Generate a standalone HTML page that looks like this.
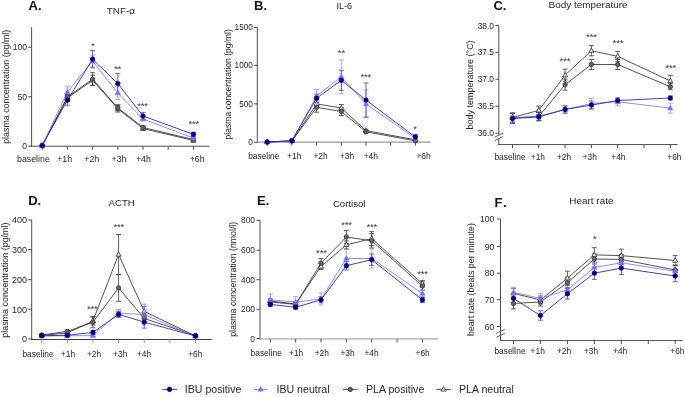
<!DOCTYPE html>
<html><head><meta charset="utf-8"><style>
html,body{margin:0;padding:0;background:#fff;}
svg{display:block;font-family:"Liberation Sans", sans-serif;will-change:transform;}
</style></head><body>
<svg width="685" height="397" viewBox="0 0 685 397">
<rect width="685" height="397" fill="#fff"/>
<g>
<line x1="31.60" y1="27.30" x2="31.60" y2="146.70" stroke="#4d4d4d" stroke-width="1.0" />
<line x1="31.10" y1="146.20" x2="209.60" y2="146.20" stroke="#4d4d4d" stroke-width="1.0" />
<line x1="28.10" y1="146.20" x2="31.60" y2="146.20" stroke="#4d4d4d" stroke-width="1.0" />
<text x="27.00" y="149.30" font-size="8.6" text-anchor="end" font-weight="normal" fill="#262626" >0</text>
<line x1="28.10" y1="96.80" x2="31.60" y2="96.80" stroke="#4d4d4d" stroke-width="1.0" />
<text x="27.00" y="99.90" font-size="8.6" text-anchor="end" font-weight="normal" fill="#262626" >50</text>
<line x1="28.10" y1="47.30" x2="31.60" y2="47.30" stroke="#4d4d4d" stroke-width="1.0" />
<text x="27.00" y="50.40" font-size="8.6" text-anchor="end" font-weight="normal" fill="#262626" >100</text>
<line x1="42.20" y1="146.20" x2="42.20" y2="149.70" stroke="#4d4d4d" stroke-width="1.0" />
<line x1="67.40" y1="146.20" x2="67.40" y2="149.70" stroke="#4d4d4d" stroke-width="1.0" />
<line x1="92.60" y1="146.20" x2="92.60" y2="149.70" stroke="#4d4d4d" stroke-width="1.0" />
<line x1="117.80" y1="146.20" x2="117.80" y2="149.70" stroke="#4d4d4d" stroke-width="1.0" />
<line x1="143.00" y1="146.20" x2="143.00" y2="149.70" stroke="#4d4d4d" stroke-width="1.0" />
<line x1="168.20" y1="146.20" x2="168.20" y2="149.70" stroke="#4d4d4d" stroke-width="1.0" />
<line x1="193.40" y1="146.20" x2="193.40" y2="149.70" stroke="#4d4d4d" stroke-width="1.0" />
<text x="33.40" y="162.20" font-size="8.8" text-anchor="middle" font-weight="normal" fill="#262626" >baseline</text>
<text x="64.70" y="162.20" font-size="8.8" text-anchor="middle" font-weight="normal" fill="#262626" >+1h</text>
<text x="91.80" y="162.20" font-size="8.8" text-anchor="middle" font-weight="normal" fill="#262626" >+2h</text>
<text x="119.00" y="162.20" font-size="8.8" text-anchor="middle" font-weight="normal" fill="#262626" >+3h</text>
<text x="143.40" y="162.20" font-size="8.8" text-anchor="middle" font-weight="normal" fill="#262626" >+4h</text>
<text x="197.20" y="162.20" font-size="8.8" text-anchor="middle" font-weight="normal" fill="#262626" >+6h</text>
<polyline points="42.20,145.50 67.40,98.00 92.60,80.30 117.80,108.60 143.00,128.50 193.40,140.50" fill="none" stroke="#333333" stroke-width="0.85"/>
<polyline points="42.20,145.50 67.40,97.00 92.60,79.20 117.80,107.80 143.00,127.50 193.40,139.50" fill="none" stroke="#333333" stroke-width="0.85"/>
<polyline points="42.20,145.50 67.40,92.00 92.60,61.00 117.80,93.00 143.00,119.00 193.40,138.00" fill="none" stroke="#7a7aff" stroke-width="0.85"/>
<polyline points="42.20,145.50 67.40,100.20 92.60,59.20 117.80,83.50 143.00,116.00 193.40,134.30" fill="none" stroke="#22228f" stroke-width="0.85"/>
<line x1="67.40" y1="95.00" x2="67.40" y2="101.00" stroke="#383838" stroke-width="0.8" />
<line x1="64.90" y1="95.00" x2="69.90" y2="95.00" stroke="#383838" stroke-width="0.8" />
<line x1="64.90" y1="101.00" x2="69.90" y2="101.00" stroke="#383838" stroke-width="0.8" />
<line x1="92.60" y1="75.30" x2="92.60" y2="85.30" stroke="#383838" stroke-width="0.8" />
<line x1="90.10" y1="75.30" x2="95.10" y2="75.30" stroke="#383838" stroke-width="0.8" />
<line x1="90.10" y1="85.30" x2="95.10" y2="85.30" stroke="#383838" stroke-width="0.8" />
<line x1="117.80" y1="105.10" x2="117.80" y2="112.10" stroke="#383838" stroke-width="0.8" />
<line x1="115.30" y1="105.10" x2="120.30" y2="105.10" stroke="#383838" stroke-width="0.8" />
<line x1="115.30" y1="112.10" x2="120.30" y2="112.10" stroke="#383838" stroke-width="0.8" />
<line x1="143.00" y1="126.50" x2="143.00" y2="130.50" stroke="#383838" stroke-width="0.8" />
<line x1="140.50" y1="126.50" x2="145.50" y2="126.50" stroke="#383838" stroke-width="0.8" />
<line x1="140.50" y1="130.50" x2="145.50" y2="130.50" stroke="#383838" stroke-width="0.8" />
<line x1="193.40" y1="139.00" x2="193.40" y2="142.00" stroke="#383838" stroke-width="0.8" />
<line x1="190.90" y1="139.00" x2="195.90" y2="139.00" stroke="#383838" stroke-width="0.8" />
<line x1="190.90" y1="142.00" x2="195.90" y2="142.00" stroke="#383838" stroke-width="0.8" />
<line x1="67.40" y1="94.00" x2="67.40" y2="100.00" stroke="#383838" stroke-width="0.8" />
<line x1="64.90" y1="94.00" x2="69.90" y2="94.00" stroke="#383838" stroke-width="0.8" />
<line x1="64.90" y1="100.00" x2="69.90" y2="100.00" stroke="#383838" stroke-width="0.8" />
<line x1="92.60" y1="72.70" x2="92.60" y2="85.70" stroke="#383838" stroke-width="0.8" />
<line x1="90.10" y1="72.70" x2="95.10" y2="72.70" stroke="#383838" stroke-width="0.8" />
<line x1="90.10" y1="85.70" x2="95.10" y2="85.70" stroke="#383838" stroke-width="0.8" />
<line x1="117.80" y1="104.80" x2="117.80" y2="110.80" stroke="#383838" stroke-width="0.8" />
<line x1="115.30" y1="104.80" x2="120.30" y2="104.80" stroke="#383838" stroke-width="0.8" />
<line x1="115.30" y1="110.80" x2="120.30" y2="110.80" stroke="#383838" stroke-width="0.8" />
<line x1="143.00" y1="126.00" x2="143.00" y2="129.00" stroke="#383838" stroke-width="0.8" />
<line x1="140.50" y1="126.00" x2="145.50" y2="126.00" stroke="#383838" stroke-width="0.8" />
<line x1="140.50" y1="129.00" x2="145.50" y2="129.00" stroke="#383838" stroke-width="0.8" />
<line x1="193.40" y1="138.00" x2="193.40" y2="141.00" stroke="#383838" stroke-width="0.8" />
<line x1="190.90" y1="138.00" x2="195.90" y2="138.00" stroke="#383838" stroke-width="0.8" />
<line x1="190.90" y1="141.00" x2="195.90" y2="141.00" stroke="#383838" stroke-width="0.8" />
<line x1="67.40" y1="86.20" x2="67.40" y2="97.80" stroke="#8c8cff" stroke-width="0.75" />
<line x1="64.90" y1="86.20" x2="69.90" y2="86.20" stroke="#8c8cff" stroke-width="0.75" />
<line x1="64.90" y1="97.80" x2="69.90" y2="97.80" stroke="#8c8cff" stroke-width="0.75" />
<line x1="92.60" y1="55.00" x2="92.60" y2="67.00" stroke="#8c8cff" stroke-width="0.75" />
<line x1="90.10" y1="55.00" x2="95.10" y2="55.00" stroke="#8c8cff" stroke-width="0.75" />
<line x1="90.10" y1="67.00" x2="95.10" y2="67.00" stroke="#8c8cff" stroke-width="0.75" />
<line x1="117.80" y1="86.60" x2="117.80" y2="99.40" stroke="#8c8cff" stroke-width="0.75" />
<line x1="115.30" y1="86.60" x2="120.30" y2="86.60" stroke="#8c8cff" stroke-width="0.75" />
<line x1="115.30" y1="99.40" x2="120.30" y2="99.40" stroke="#8c8cff" stroke-width="0.75" />
<line x1="143.00" y1="117.00" x2="143.00" y2="121.00" stroke="#8c8cff" stroke-width="0.75" />
<line x1="140.50" y1="117.00" x2="145.50" y2="117.00" stroke="#8c8cff" stroke-width="0.75" />
<line x1="140.50" y1="121.00" x2="145.50" y2="121.00" stroke="#8c8cff" stroke-width="0.75" />
<line x1="193.40" y1="136.50" x2="193.40" y2="139.50" stroke="#8c8cff" stroke-width="0.75" />
<line x1="190.90" y1="136.50" x2="195.90" y2="136.50" stroke="#8c8cff" stroke-width="0.75" />
<line x1="190.90" y1="139.50" x2="195.90" y2="139.50" stroke="#8c8cff" stroke-width="0.75" />
<line x1="67.40" y1="95.20" x2="67.40" y2="105.20" stroke="#3c3c9c" stroke-width="0.75" />
<line x1="64.90" y1="95.20" x2="69.90" y2="95.20" stroke="#3c3c9c" stroke-width="0.75" />
<line x1="64.90" y1="105.20" x2="69.90" y2="105.20" stroke="#3c3c9c" stroke-width="0.75" />
<line x1="92.60" y1="50.50" x2="92.60" y2="67.90" stroke="#3c3c9c" stroke-width="0.75" />
<line x1="90.10" y1="50.50" x2="95.10" y2="50.50" stroke="#3c3c9c" stroke-width="0.75" />
<line x1="90.10" y1="67.90" x2="95.10" y2="67.90" stroke="#3c3c9c" stroke-width="0.75" />
<line x1="117.80" y1="73.40" x2="117.80" y2="93.60" stroke="#3c3c9c" stroke-width="0.75" />
<line x1="115.30" y1="73.40" x2="120.30" y2="73.40" stroke="#3c3c9c" stroke-width="0.75" />
<line x1="115.30" y1="93.60" x2="120.30" y2="93.60" stroke="#3c3c9c" stroke-width="0.75" />
<line x1="143.00" y1="112.40" x2="143.00" y2="119.60" stroke="#3c3c9c" stroke-width="0.75" />
<line x1="140.50" y1="112.40" x2="145.50" y2="112.40" stroke="#3c3c9c" stroke-width="0.75" />
<line x1="140.50" y1="119.60" x2="145.50" y2="119.60" stroke="#3c3c9c" stroke-width="0.75" />
<line x1="193.40" y1="132.30" x2="193.40" y2="136.30" stroke="#3c3c9c" stroke-width="0.75" />
<line x1="190.90" y1="132.30" x2="195.90" y2="132.30" stroke="#3c3c9c" stroke-width="0.75" />
<line x1="190.90" y1="136.30" x2="195.90" y2="136.30" stroke="#3c3c9c" stroke-width="0.75" />
<polygon points="42.20,142.76 39.65,147.18 44.75,147.18" fill="#e8e8e8" stroke="#333333" stroke-width="0.8" stroke-linejoin="miter"/>
<polygon points="67.40,95.26 64.85,99.68 69.95,99.68" fill="#e8e8e8" stroke="#333333" stroke-width="0.8" stroke-linejoin="miter"/>
<polygon points="92.60,77.56 90.05,81.98 95.15,81.98" fill="#e8e8e8" stroke="#333333" stroke-width="0.8" stroke-linejoin="miter"/>
<polygon points="117.80,105.86 115.25,110.28 120.35,110.28" fill="#e8e8e8" stroke="#333333" stroke-width="0.8" stroke-linejoin="miter"/>
<polygon points="143.00,125.76 140.45,130.18 145.55,130.18" fill="#e8e8e8" stroke="#333333" stroke-width="0.8" stroke-linejoin="miter"/>
<polygon points="193.40,137.76 190.85,142.18 195.95,142.18" fill="#e8e8e8" stroke="#333333" stroke-width="0.8" stroke-linejoin="miter"/>
<circle cx="42.20" cy="145.50" r="2.2" fill="#666666" stroke="#333333" stroke-width="0.8"/>
<circle cx="67.40" cy="97.00" r="2.2" fill="#666666" stroke="#333333" stroke-width="0.8"/>
<circle cx="92.60" cy="79.20" r="2.2" fill="#666666" stroke="#333333" stroke-width="0.8"/>
<circle cx="117.80" cy="107.80" r="2.2" fill="#666666" stroke="#333333" stroke-width="0.8"/>
<circle cx="143.00" cy="127.50" r="2.2" fill="#666666" stroke="#333333" stroke-width="0.8"/>
<circle cx="193.40" cy="139.50" r="2.2" fill="#666666" stroke="#333333" stroke-width="0.8"/>
<polygon points="42.20,142.60 39.50,147.28 44.90,147.28" fill="#7373ff" stroke="#7373ff" stroke-width="0.5" stroke-linejoin="miter"/>
<polygon points="67.40,89.10 64.70,93.78 70.10,93.78" fill="#7373ff" stroke="#7373ff" stroke-width="0.5" stroke-linejoin="miter"/>
<polygon points="92.60,58.10 89.90,62.78 95.30,62.78" fill="#7373ff" stroke="#7373ff" stroke-width="0.5" stroke-linejoin="miter"/>
<polygon points="117.80,90.10 115.10,94.78 120.50,94.78" fill="#7373ff" stroke="#7373ff" stroke-width="0.5" stroke-linejoin="miter"/>
<polygon points="143.00,116.10 140.30,120.78 145.70,120.78" fill="#7373ff" stroke="#7373ff" stroke-width="0.5" stroke-linejoin="miter"/>
<polygon points="193.40,135.10 190.70,139.78 196.10,139.78" fill="#7373ff" stroke="#7373ff" stroke-width="0.5" stroke-linejoin="miter"/>
<circle cx="42.20" cy="145.50" r="2.35" fill="#000080" stroke="#000080" stroke-width="0.5"/>
<circle cx="67.40" cy="100.20" r="2.35" fill="#000080" stroke="#000080" stroke-width="0.5"/>
<circle cx="92.60" cy="59.20" r="2.35" fill="#000080" stroke="#000080" stroke-width="0.5"/>
<circle cx="117.80" cy="83.50" r="2.35" fill="#000080" stroke="#000080" stroke-width="0.5"/>
<circle cx="143.00" cy="116.00" r="2.35" fill="#000080" stroke="#000080" stroke-width="0.5"/>
<circle cx="193.40" cy="134.30" r="2.35" fill="#000080" stroke="#000080" stroke-width="0.5"/>
<text x="92.70" y="48.72" font-size="9.6" text-anchor="middle" font-weight="normal" fill="#333" letter-spacing="-0.2">*</text>
<text x="117.50" y="71.72" font-size="9.6" text-anchor="middle" font-weight="normal" fill="#333" letter-spacing="-0.2">**</text>
<text x="142.50" y="109.32" font-size="9.6" text-anchor="middle" font-weight="normal" fill="#333" letter-spacing="-0.2">***</text>
<text x="193.80" y="127.12" font-size="9.6" text-anchor="middle" font-weight="normal" fill="#333" letter-spacing="-0.2">***</text>
<text x="28.60" y="10.00" font-size="13" text-anchor="start" font-weight="bold" fill="#111" >A.</text>
<text x="106.80" y="14.00" font-size="9.9" text-anchor="start" font-weight="normal" fill="#262626" >TNF-α</text>
<text transform="translate(8.80,86.80) rotate(-90)" font-size="8.85" text-anchor="middle" fill="#262626">plasma concentration (pg/ml)</text>
<line x1="257.30" y1="27.40" x2="257.30" y2="142.70" stroke="#4d4d4d" stroke-width="1.0" />
<line x1="256.80" y1="142.20" x2="430.60" y2="142.20" stroke="#999" stroke-width="1.3" />
<line x1="253.80" y1="142.20" x2="257.30" y2="142.20" stroke="#4d4d4d" stroke-width="1.0" />
<text x="252.80" y="145.15" font-size="8.2" text-anchor="end" font-weight="normal" fill="#262626" >0</text>
<line x1="253.80" y1="103.80" x2="257.30" y2="103.80" stroke="#4d4d4d" stroke-width="1.0" />
<text x="252.80" y="106.75" font-size="8.2" text-anchor="end" font-weight="normal" fill="#262626" >500</text>
<line x1="253.80" y1="65.30" x2="257.30" y2="65.30" stroke="#4d4d4d" stroke-width="1.0" />
<text x="252.80" y="68.25" font-size="8.2" text-anchor="end" font-weight="normal" fill="#262626" >1000</text>
<line x1="253.80" y1="27.40" x2="257.30" y2="27.40" stroke="#4d4d4d" stroke-width="1.0" />
<text x="252.80" y="30.35" font-size="8.2" text-anchor="end" font-weight="normal" fill="#262626" >1500</text>
<line x1="267.20" y1="142.20" x2="267.20" y2="145.70" stroke="#4d4d4d" stroke-width="1.0" />
<line x1="291.90" y1="142.20" x2="291.90" y2="145.70" stroke="#4d4d4d" stroke-width="1.0" />
<line x1="316.60" y1="142.20" x2="316.60" y2="145.70" stroke="#4d4d4d" stroke-width="1.0" />
<line x1="341.30" y1="142.20" x2="341.30" y2="145.70" stroke="#4d4d4d" stroke-width="1.0" />
<line x1="366.00" y1="142.20" x2="366.00" y2="145.70" stroke="#4d4d4d" stroke-width="1.0" />
<line x1="390.70" y1="142.20" x2="390.70" y2="145.70" stroke="#4d4d4d" stroke-width="1.0" />
<line x1="415.40" y1="142.20" x2="415.40" y2="145.70" stroke="#4d4d4d" stroke-width="1.0" />
<text x="263.80" y="159.00" font-size="8.4" text-anchor="middle" font-weight="normal" fill="#262626" >baseline</text>
<text x="294.20" y="159.00" font-size="8.4" text-anchor="middle" font-weight="normal" fill="#262626" >+1h</text>
<text x="320.50" y="159.00" font-size="8.4" text-anchor="middle" font-weight="normal" fill="#262626" >+2h</text>
<text x="347.00" y="159.00" font-size="8.4" text-anchor="middle" font-weight="normal" fill="#262626" >+3h</text>
<text x="370.80" y="159.00" font-size="8.4" text-anchor="middle" font-weight="normal" fill="#262626" >+4h</text>
<text x="423.50" y="159.00" font-size="8.4" text-anchor="middle" font-weight="normal" fill="#262626" >+6h</text>
<polyline points="267.20,142.00 291.90,141.00 316.60,103.90 341.30,108.00 366.00,130.60 415.40,139.80" fill="none" stroke="#333333" stroke-width="0.85"/>
<polyline points="267.20,142.00 291.90,141.00 316.60,107.30 341.30,111.50 366.00,131.80 415.40,140.80" fill="none" stroke="#333333" stroke-width="0.85"/>
<polyline points="267.20,142.00 291.90,140.90 316.60,96.00 341.30,76.80 366.00,103.90 415.40,138.50" fill="none" stroke="#7a7aff" stroke-width="0.85"/>
<polyline points="267.20,142.00 291.90,140.70 316.60,98.20 341.30,80.30 366.00,100.00 415.40,137.10" fill="none" stroke="#22228f" stroke-width="0.85"/>
<line x1="316.60" y1="99.90" x2="316.60" y2="107.90" stroke="#383838" stroke-width="0.8" />
<line x1="314.10" y1="99.90" x2="319.10" y2="99.90" stroke="#383838" stroke-width="0.8" />
<line x1="314.10" y1="107.90" x2="319.10" y2="107.90" stroke="#383838" stroke-width="0.8" />
<line x1="341.30" y1="104.50" x2="341.30" y2="111.50" stroke="#383838" stroke-width="0.8" />
<line x1="338.80" y1="104.50" x2="343.80" y2="104.50" stroke="#383838" stroke-width="0.8" />
<line x1="338.80" y1="111.50" x2="343.80" y2="111.50" stroke="#383838" stroke-width="0.8" />
<line x1="366.00" y1="129.40" x2="366.00" y2="131.80" stroke="#383838" stroke-width="0.8" />
<line x1="363.50" y1="129.40" x2="368.50" y2="129.40" stroke="#383838" stroke-width="0.8" />
<line x1="363.50" y1="131.80" x2="368.50" y2="131.80" stroke="#383838" stroke-width="0.8" />
<line x1="316.60" y1="102.40" x2="316.60" y2="112.20" stroke="#383838" stroke-width="0.8" />
<line x1="314.10" y1="102.40" x2="319.10" y2="102.40" stroke="#383838" stroke-width="0.8" />
<line x1="314.10" y1="112.20" x2="319.10" y2="112.20" stroke="#383838" stroke-width="0.8" />
<line x1="341.30" y1="107.50" x2="341.30" y2="115.50" stroke="#383838" stroke-width="0.8" />
<line x1="338.80" y1="107.50" x2="343.80" y2="107.50" stroke="#383838" stroke-width="0.8" />
<line x1="338.80" y1="115.50" x2="343.80" y2="115.50" stroke="#383838" stroke-width="0.8" />
<line x1="366.00" y1="130.60" x2="366.00" y2="133.00" stroke="#383838" stroke-width="0.8" />
<line x1="363.50" y1="130.60" x2="368.50" y2="130.60" stroke="#383838" stroke-width="0.8" />
<line x1="363.50" y1="133.00" x2="368.50" y2="133.00" stroke="#383838" stroke-width="0.8" />
<line x1="291.90" y1="139.90" x2="291.90" y2="141.90" stroke="#8c8cff" stroke-width="0.75" />
<line x1="289.40" y1="139.90" x2="294.40" y2="139.90" stroke="#8c8cff" stroke-width="0.75" />
<line x1="289.40" y1="141.90" x2="294.40" y2="141.90" stroke="#8c8cff" stroke-width="0.75" />
<line x1="316.60" y1="89.50" x2="316.60" y2="102.50" stroke="#8c8cff" stroke-width="0.75" />
<line x1="314.10" y1="89.50" x2="319.10" y2="89.50" stroke="#8c8cff" stroke-width="0.75" />
<line x1="314.10" y1="102.50" x2="319.10" y2="102.50" stroke="#8c8cff" stroke-width="0.75" />
<line x1="341.30" y1="59.90" x2="341.30" y2="93.70" stroke="#8c8cff" stroke-width="0.75" />
<line x1="338.80" y1="59.90" x2="343.80" y2="59.90" stroke="#8c8cff" stroke-width="0.75" />
<line x1="338.80" y1="93.70" x2="343.80" y2="93.70" stroke="#8c8cff" stroke-width="0.75" />
<line x1="366.00" y1="89.90" x2="366.00" y2="117.90" stroke="#8c8cff" stroke-width="0.75" />
<line x1="363.50" y1="89.90" x2="368.50" y2="89.90" stroke="#8c8cff" stroke-width="0.75" />
<line x1="363.50" y1="117.90" x2="368.50" y2="117.90" stroke="#8c8cff" stroke-width="0.75" />
<line x1="415.40" y1="136.50" x2="415.40" y2="140.50" stroke="#8c8cff" stroke-width="0.75" />
<line x1="412.90" y1="136.50" x2="417.90" y2="136.50" stroke="#8c8cff" stroke-width="0.75" />
<line x1="412.90" y1="140.50" x2="417.90" y2="140.50" stroke="#8c8cff" stroke-width="0.75" />
<line x1="291.90" y1="139.70" x2="291.90" y2="141.70" stroke="#3c3c9c" stroke-width="0.75" />
<line x1="289.40" y1="139.70" x2="294.40" y2="139.70" stroke="#3c3c9c" stroke-width="0.75" />
<line x1="289.40" y1="141.70" x2="294.40" y2="141.70" stroke="#3c3c9c" stroke-width="0.75" />
<line x1="316.60" y1="94.20" x2="316.60" y2="102.20" stroke="#3c3c9c" stroke-width="0.75" />
<line x1="314.10" y1="94.20" x2="319.10" y2="94.20" stroke="#3c3c9c" stroke-width="0.75" />
<line x1="314.10" y1="102.20" x2="319.10" y2="102.20" stroke="#3c3c9c" stroke-width="0.75" />
<line x1="341.30" y1="70.30" x2="341.30" y2="90.30" stroke="#3c3c9c" stroke-width="0.75" />
<line x1="338.80" y1="70.30" x2="343.80" y2="70.30" stroke="#3c3c9c" stroke-width="0.75" />
<line x1="338.80" y1="90.30" x2="343.80" y2="90.30" stroke="#3c3c9c" stroke-width="0.75" />
<line x1="366.00" y1="83.00" x2="366.00" y2="117.00" stroke="#3c3c9c" stroke-width="0.75" />
<line x1="363.50" y1="83.00" x2="368.50" y2="83.00" stroke="#3c3c9c" stroke-width="0.75" />
<line x1="363.50" y1="117.00" x2="368.50" y2="117.00" stroke="#3c3c9c" stroke-width="0.75" />
<line x1="415.40" y1="134.60" x2="415.40" y2="139.60" stroke="#3c3c9c" stroke-width="0.75" />
<line x1="412.90" y1="134.60" x2="417.90" y2="134.60" stroke="#3c3c9c" stroke-width="0.75" />
<line x1="412.90" y1="139.60" x2="417.90" y2="139.60" stroke="#3c3c9c" stroke-width="0.75" />
<polygon points="267.20,139.26 264.65,143.68 269.75,143.68" fill="#e8e8e8" stroke="#333333" stroke-width="0.8" stroke-linejoin="miter"/>
<polygon points="291.90,138.26 289.35,142.68 294.45,142.68" fill="#e8e8e8" stroke="#333333" stroke-width="0.8" stroke-linejoin="miter"/>
<polygon points="316.60,101.16 314.05,105.58 319.15,105.58" fill="#e8e8e8" stroke="#333333" stroke-width="0.8" stroke-linejoin="miter"/>
<polygon points="341.30,105.26 338.75,109.68 343.85,109.68" fill="#e8e8e8" stroke="#333333" stroke-width="0.8" stroke-linejoin="miter"/>
<polygon points="366.00,127.86 363.45,132.28 368.55,132.28" fill="#e8e8e8" stroke="#333333" stroke-width="0.8" stroke-linejoin="miter"/>
<polygon points="415.40,137.06 412.85,141.48 417.95,141.48" fill="#e8e8e8" stroke="#333333" stroke-width="0.8" stroke-linejoin="miter"/>
<circle cx="267.20" cy="142.00" r="2.2" fill="#666666" stroke="#333333" stroke-width="0.8"/>
<circle cx="291.90" cy="141.00" r="2.2" fill="#666666" stroke="#333333" stroke-width="0.8"/>
<circle cx="316.60" cy="107.30" r="2.2" fill="#666666" stroke="#333333" stroke-width="0.8"/>
<circle cx="341.30" cy="111.50" r="2.2" fill="#666666" stroke="#333333" stroke-width="0.8"/>
<circle cx="366.00" cy="131.80" r="2.2" fill="#666666" stroke="#333333" stroke-width="0.8"/>
<circle cx="415.40" cy="140.80" r="2.2" fill="#666666" stroke="#333333" stroke-width="0.8"/>
<polygon points="267.20,139.10 264.50,143.78 269.90,143.78" fill="#7373ff" stroke="#7373ff" stroke-width="0.5" stroke-linejoin="miter"/>
<polygon points="291.90,138.00 289.20,142.68 294.60,142.68" fill="#7373ff" stroke="#7373ff" stroke-width="0.5" stroke-linejoin="miter"/>
<polygon points="316.60,93.10 313.90,97.78 319.30,97.78" fill="#7373ff" stroke="#7373ff" stroke-width="0.5" stroke-linejoin="miter"/>
<polygon points="341.30,73.90 338.60,78.58 344.00,78.58" fill="#7373ff" stroke="#7373ff" stroke-width="0.5" stroke-linejoin="miter"/>
<polygon points="366.00,101.00 363.30,105.68 368.70,105.68" fill="#7373ff" stroke="#7373ff" stroke-width="0.5" stroke-linejoin="miter"/>
<polygon points="415.40,135.60 412.70,140.28 418.10,140.28" fill="#7373ff" stroke="#7373ff" stroke-width="0.5" stroke-linejoin="miter"/>
<circle cx="267.20" cy="142.00" r="2.35" fill="#000080" stroke="#000080" stroke-width="0.5"/>
<circle cx="291.90" cy="140.70" r="2.35" fill="#000080" stroke="#000080" stroke-width="0.5"/>
<circle cx="316.60" cy="98.20" r="2.35" fill="#000080" stroke="#000080" stroke-width="0.5"/>
<circle cx="341.30" cy="80.30" r="2.35" fill="#000080" stroke="#000080" stroke-width="0.5"/>
<circle cx="366.00" cy="100.00" r="2.35" fill="#000080" stroke="#000080" stroke-width="0.5"/>
<circle cx="415.40" cy="137.10" r="2.35" fill="#000080" stroke="#000080" stroke-width="0.5"/>
<text x="341.40" y="56.32" font-size="9.6" text-anchor="middle" font-weight="normal" fill="#333" letter-spacing="-0.2">**</text>
<text x="365.70" y="80.32" font-size="9.6" text-anchor="middle" font-weight="normal" fill="#333" letter-spacing="-0.2">***</text>
<text x="415.00" y="131.72" font-size="9.6" text-anchor="middle" font-weight="normal" fill="#333" letter-spacing="-0.2">*</text>
<text x="254.00" y="10.00" font-size="13" text-anchor="start" font-weight="bold" fill="#111" >B.</text>
<text x="336.60" y="9.30" font-size="9.0" text-anchor="start" font-weight="normal" fill="#262626" >IL-6</text>
<text transform="translate(231.00,84.30) rotate(-90)" font-size="8.55" text-anchor="middle" fill="#262626">plasma concentration (pg/ml)</text>
<line x1="498.80" y1="25.60" x2="498.80" y2="135.00" stroke="#4d4d4d" stroke-width="1.0" />
<line x1="498.80" y1="138.60" x2="498.80" y2="145.00" stroke="#4d4d4d" stroke-width="1.0" />
<line x1="494.60" y1="137.20" x2="503.00" y2="133.20" stroke="#4d4d4d" stroke-width="0.9" />
<line x1="494.60" y1="140.60" x2="503.00" y2="136.60" stroke="#4d4d4d" stroke-width="0.9" />
<line x1="498.30" y1="144.50" x2="677.70" y2="144.50" stroke="#555" stroke-width="1.0" />
<line x1="495.30" y1="133.20" x2="498.80" y2="133.20" stroke="#4d4d4d" stroke-width="1.0" />
<text x="494.00" y="136.22" font-size="8.4" text-anchor="end" font-weight="normal" fill="#262626" >36.0</text>
<line x1="495.30" y1="106.20" x2="498.80" y2="106.20" stroke="#4d4d4d" stroke-width="1.0" />
<text x="494.00" y="109.22" font-size="8.4" text-anchor="end" font-weight="normal" fill="#262626" >36.5</text>
<line x1="495.30" y1="79.30" x2="498.80" y2="79.30" stroke="#4d4d4d" stroke-width="1.0" />
<text x="494.00" y="82.32" font-size="8.4" text-anchor="end" font-weight="normal" fill="#262626" >37.0</text>
<line x1="495.30" y1="52.40" x2="498.80" y2="52.40" stroke="#4d4d4d" stroke-width="1.0" />
<text x="494.00" y="55.42" font-size="8.4" text-anchor="end" font-weight="normal" fill="#262626" >37.5</text>
<line x1="495.30" y1="25.60" x2="498.80" y2="25.60" stroke="#4d4d4d" stroke-width="1.0" />
<text x="494.00" y="28.62" font-size="8.4" text-anchor="end" font-weight="normal" fill="#262626" >38.0</text>
<line x1="512.50" y1="144.50" x2="512.50" y2="148.00" stroke="#4d4d4d" stroke-width="1.0" />
<line x1="538.80" y1="144.50" x2="538.80" y2="148.00" stroke="#4d4d4d" stroke-width="1.0" />
<line x1="565.10" y1="144.50" x2="565.10" y2="148.00" stroke="#4d4d4d" stroke-width="1.0" />
<line x1="591.40" y1="144.50" x2="591.40" y2="148.00" stroke="#4d4d4d" stroke-width="1.0" />
<line x1="617.70" y1="144.50" x2="617.70" y2="148.00" stroke="#4d4d4d" stroke-width="1.0" />
<line x1="644.00" y1="144.50" x2="644.00" y2="148.00" stroke="#4d4d4d" stroke-width="1.0" />
<line x1="670.30" y1="144.50" x2="670.30" y2="148.00" stroke="#4d4d4d" stroke-width="1.0" />
<text x="510.00" y="160.20" font-size="8.4" text-anchor="middle" font-weight="normal" fill="#262626" >baseline</text>
<text x="537.90" y="160.20" font-size="8.4" text-anchor="middle" font-weight="normal" fill="#262626" >+1h</text>
<text x="564.00" y="160.20" font-size="8.4" text-anchor="middle" font-weight="normal" fill="#262626" >+2h</text>
<text x="589.80" y="160.20" font-size="8.4" text-anchor="middle" font-weight="normal" fill="#262626" >+3h</text>
<text x="618.40" y="160.20" font-size="8.4" text-anchor="middle" font-weight="normal" fill="#262626" >+4h</text>
<text x="674.40" y="160.20" font-size="8.4" text-anchor="middle" font-weight="normal" fill="#262626" >+6h</text>
<polyline points="512.50,117.50 538.80,110.40 565.10,75.10 591.40,50.70 617.70,56.40 670.30,80.90" fill="none" stroke="#333333" stroke-width="0.85"/>
<polyline points="512.50,118.00 538.80,116.50 565.10,84.60 591.40,64.50 617.70,64.50 670.30,86.70" fill="none" stroke="#333333" stroke-width="0.85"/>
<polyline points="512.50,118.00 538.80,116.00 565.10,109.50 591.40,103.50 617.70,101.80 670.30,108.10" fill="none" stroke="#7a7aff" stroke-width="0.85"/>
<polyline points="512.50,118.50 538.80,116.90 565.10,109.40 591.40,105.10 617.70,100.50 670.30,98.00" fill="none" stroke="#22228f" stroke-width="0.85"/>
<line x1="512.50" y1="113.00" x2="512.50" y2="122.00" stroke="#383838" stroke-width="0.8" />
<line x1="510.00" y1="113.00" x2="515.00" y2="113.00" stroke="#383838" stroke-width="0.8" />
<line x1="510.00" y1="122.00" x2="515.00" y2="122.00" stroke="#383838" stroke-width="0.8" />
<line x1="538.80" y1="106.00" x2="538.80" y2="114.80" stroke="#383838" stroke-width="0.8" />
<line x1="536.30" y1="106.00" x2="541.30" y2="106.00" stroke="#383838" stroke-width="0.8" />
<line x1="536.30" y1="114.80" x2="541.30" y2="114.80" stroke="#383838" stroke-width="0.8" />
<line x1="565.10" y1="69.10" x2="565.10" y2="81.10" stroke="#383838" stroke-width="0.8" />
<line x1="562.60" y1="69.10" x2="567.60" y2="69.10" stroke="#383838" stroke-width="0.8" />
<line x1="562.60" y1="81.10" x2="567.60" y2="81.10" stroke="#383838" stroke-width="0.8" />
<line x1="591.40" y1="45.60" x2="591.40" y2="55.80" stroke="#383838" stroke-width="0.8" />
<line x1="588.90" y1="45.60" x2="593.90" y2="45.60" stroke="#383838" stroke-width="0.8" />
<line x1="588.90" y1="55.80" x2="593.90" y2="55.80" stroke="#383838" stroke-width="0.8" />
<line x1="617.70" y1="51.40" x2="617.70" y2="61.40" stroke="#383838" stroke-width="0.8" />
<line x1="615.20" y1="51.40" x2="620.20" y2="51.40" stroke="#383838" stroke-width="0.8" />
<line x1="615.20" y1="61.40" x2="620.20" y2="61.40" stroke="#383838" stroke-width="0.8" />
<line x1="670.30" y1="75.30" x2="670.30" y2="86.50" stroke="#383838" stroke-width="0.8" />
<line x1="667.80" y1="75.30" x2="672.80" y2="75.30" stroke="#383838" stroke-width="0.8" />
<line x1="667.80" y1="86.50" x2="672.80" y2="86.50" stroke="#383838" stroke-width="0.8" />
<line x1="512.50" y1="113.00" x2="512.50" y2="123.00" stroke="#383838" stroke-width="0.8" />
<line x1="510.00" y1="113.00" x2="515.00" y2="113.00" stroke="#383838" stroke-width="0.8" />
<line x1="510.00" y1="123.00" x2="515.00" y2="123.00" stroke="#383838" stroke-width="0.8" />
<line x1="538.80" y1="112.50" x2="538.80" y2="120.50" stroke="#383838" stroke-width="0.8" />
<line x1="536.30" y1="112.50" x2="541.30" y2="112.50" stroke="#383838" stroke-width="0.8" />
<line x1="536.30" y1="120.50" x2="541.30" y2="120.50" stroke="#383838" stroke-width="0.8" />
<line x1="565.10" y1="79.00" x2="565.10" y2="90.20" stroke="#383838" stroke-width="0.8" />
<line x1="562.60" y1="79.00" x2="567.60" y2="79.00" stroke="#383838" stroke-width="0.8" />
<line x1="562.60" y1="90.20" x2="567.60" y2="90.20" stroke="#383838" stroke-width="0.8" />
<line x1="591.40" y1="59.50" x2="591.40" y2="69.50" stroke="#383838" stroke-width="0.8" />
<line x1="588.90" y1="59.50" x2="593.90" y2="59.50" stroke="#383838" stroke-width="0.8" />
<line x1="588.90" y1="69.50" x2="593.90" y2="69.50" stroke="#383838" stroke-width="0.8" />
<line x1="617.70" y1="59.50" x2="617.70" y2="69.50" stroke="#383838" stroke-width="0.8" />
<line x1="615.20" y1="59.50" x2="620.20" y2="59.50" stroke="#383838" stroke-width="0.8" />
<line x1="615.20" y1="69.50" x2="620.20" y2="69.50" stroke="#383838" stroke-width="0.8" />
<line x1="670.30" y1="83.70" x2="670.30" y2="89.70" stroke="#383838" stroke-width="0.8" />
<line x1="667.80" y1="83.70" x2="672.80" y2="83.70" stroke="#383838" stroke-width="0.8" />
<line x1="667.80" y1="89.70" x2="672.80" y2="89.70" stroke="#383838" stroke-width="0.8" />
<line x1="512.50" y1="113.00" x2="512.50" y2="123.00" stroke="#8c8cff" stroke-width="0.75" />
<line x1="510.00" y1="113.00" x2="515.00" y2="113.00" stroke="#8c8cff" stroke-width="0.75" />
<line x1="510.00" y1="123.00" x2="515.00" y2="123.00" stroke="#8c8cff" stroke-width="0.75" />
<line x1="538.80" y1="112.00" x2="538.80" y2="120.00" stroke="#8c8cff" stroke-width="0.75" />
<line x1="536.30" y1="112.00" x2="541.30" y2="112.00" stroke="#8c8cff" stroke-width="0.75" />
<line x1="536.30" y1="120.00" x2="541.30" y2="120.00" stroke="#8c8cff" stroke-width="0.75" />
<line x1="565.10" y1="105.50" x2="565.10" y2="113.50" stroke="#8c8cff" stroke-width="0.75" />
<line x1="562.60" y1="105.50" x2="567.60" y2="105.50" stroke="#8c8cff" stroke-width="0.75" />
<line x1="562.60" y1="113.50" x2="567.60" y2="113.50" stroke="#8c8cff" stroke-width="0.75" />
<line x1="591.40" y1="98.50" x2="591.40" y2="108.50" stroke="#8c8cff" stroke-width="0.75" />
<line x1="588.90" y1="98.50" x2="593.90" y2="98.50" stroke="#8c8cff" stroke-width="0.75" />
<line x1="588.90" y1="108.50" x2="593.90" y2="108.50" stroke="#8c8cff" stroke-width="0.75" />
<line x1="617.70" y1="97.80" x2="617.70" y2="105.80" stroke="#8c8cff" stroke-width="0.75" />
<line x1="615.20" y1="97.80" x2="620.20" y2="97.80" stroke="#8c8cff" stroke-width="0.75" />
<line x1="615.20" y1="105.80" x2="620.20" y2="105.80" stroke="#8c8cff" stroke-width="0.75" />
<line x1="670.30" y1="103.10" x2="670.30" y2="113.10" stroke="#8c8cff" stroke-width="0.75" />
<line x1="667.80" y1="103.10" x2="672.80" y2="103.10" stroke="#8c8cff" stroke-width="0.75" />
<line x1="667.80" y1="113.10" x2="672.80" y2="113.10" stroke="#8c8cff" stroke-width="0.75" />
<line x1="512.50" y1="113.50" x2="512.50" y2="123.50" stroke="#3c3c9c" stroke-width="0.75" />
<line x1="510.00" y1="113.50" x2="515.00" y2="113.50" stroke="#3c3c9c" stroke-width="0.75" />
<line x1="510.00" y1="123.50" x2="515.00" y2="123.50" stroke="#3c3c9c" stroke-width="0.75" />
<line x1="538.80" y1="112.90" x2="538.80" y2="120.90" stroke="#3c3c9c" stroke-width="0.75" />
<line x1="536.30" y1="112.90" x2="541.30" y2="112.90" stroke="#3c3c9c" stroke-width="0.75" />
<line x1="536.30" y1="120.90" x2="541.30" y2="120.90" stroke="#3c3c9c" stroke-width="0.75" />
<line x1="565.10" y1="105.90" x2="565.10" y2="112.90" stroke="#3c3c9c" stroke-width="0.75" />
<line x1="562.60" y1="105.90" x2="567.60" y2="105.90" stroke="#3c3c9c" stroke-width="0.75" />
<line x1="562.60" y1="112.90" x2="567.60" y2="112.90" stroke="#3c3c9c" stroke-width="0.75" />
<line x1="591.40" y1="101.10" x2="591.40" y2="109.10" stroke="#3c3c9c" stroke-width="0.75" />
<line x1="588.90" y1="101.10" x2="593.90" y2="101.10" stroke="#3c3c9c" stroke-width="0.75" />
<line x1="588.90" y1="109.10" x2="593.90" y2="109.10" stroke="#3c3c9c" stroke-width="0.75" />
<line x1="617.70" y1="98.00" x2="617.70" y2="103.00" stroke="#3c3c9c" stroke-width="0.75" />
<line x1="615.20" y1="98.00" x2="620.20" y2="98.00" stroke="#3c3c9c" stroke-width="0.75" />
<line x1="615.20" y1="103.00" x2="620.20" y2="103.00" stroke="#3c3c9c" stroke-width="0.75" />
<line x1="670.30" y1="96.00" x2="670.30" y2="100.00" stroke="#3c3c9c" stroke-width="0.75" />
<line x1="667.80" y1="96.00" x2="672.80" y2="96.00" stroke="#3c3c9c" stroke-width="0.75" />
<line x1="667.80" y1="100.00" x2="672.80" y2="100.00" stroke="#3c3c9c" stroke-width="0.75" />
<polygon points="512.50,114.76 509.95,119.18 515.05,119.18" fill="#e8e8e8" stroke="#333333" stroke-width="0.8" stroke-linejoin="miter"/>
<polygon points="538.80,107.66 536.25,112.08 541.35,112.08" fill="#e8e8e8" stroke="#333333" stroke-width="0.8" stroke-linejoin="miter"/>
<polygon points="565.10,72.36 562.55,76.78 567.65,76.78" fill="#e8e8e8" stroke="#333333" stroke-width="0.8" stroke-linejoin="miter"/>
<polygon points="591.40,47.96 588.85,52.38 593.95,52.38" fill="#e8e8e8" stroke="#333333" stroke-width="0.8" stroke-linejoin="miter"/>
<polygon points="617.70,53.66 615.15,58.08 620.25,58.08" fill="#e8e8e8" stroke="#333333" stroke-width="0.8" stroke-linejoin="miter"/>
<polygon points="670.30,78.16 667.75,82.58 672.85,82.58" fill="#e8e8e8" stroke="#333333" stroke-width="0.8" stroke-linejoin="miter"/>
<circle cx="512.50" cy="118.00" r="2.2" fill="#666666" stroke="#333333" stroke-width="0.8"/>
<circle cx="538.80" cy="116.50" r="2.2" fill="#666666" stroke="#333333" stroke-width="0.8"/>
<circle cx="565.10" cy="84.60" r="2.2" fill="#666666" stroke="#333333" stroke-width="0.8"/>
<circle cx="591.40" cy="64.50" r="2.2" fill="#666666" stroke="#333333" stroke-width="0.8"/>
<circle cx="617.70" cy="64.50" r="2.2" fill="#666666" stroke="#333333" stroke-width="0.8"/>
<circle cx="670.30" cy="86.70" r="2.2" fill="#666666" stroke="#333333" stroke-width="0.8"/>
<polygon points="512.50,115.10 509.80,119.78 515.20,119.78" fill="#7373ff" stroke="#7373ff" stroke-width="0.5" stroke-linejoin="miter"/>
<polygon points="538.80,113.10 536.10,117.78 541.50,117.78" fill="#7373ff" stroke="#7373ff" stroke-width="0.5" stroke-linejoin="miter"/>
<polygon points="565.10,106.60 562.40,111.28 567.80,111.28" fill="#7373ff" stroke="#7373ff" stroke-width="0.5" stroke-linejoin="miter"/>
<polygon points="591.40,100.60 588.70,105.28 594.10,105.28" fill="#7373ff" stroke="#7373ff" stroke-width="0.5" stroke-linejoin="miter"/>
<polygon points="617.70,98.90 615.00,103.58 620.40,103.58" fill="#7373ff" stroke="#7373ff" stroke-width="0.5" stroke-linejoin="miter"/>
<polygon points="670.30,105.20 667.60,109.88 673.00,109.88" fill="#7373ff" stroke="#7373ff" stroke-width="0.5" stroke-linejoin="miter"/>
<circle cx="512.50" cy="118.50" r="2.35" fill="#000080" stroke="#000080" stroke-width="0.5"/>
<circle cx="538.80" cy="116.90" r="2.35" fill="#000080" stroke="#000080" stroke-width="0.5"/>
<circle cx="565.10" cy="109.40" r="2.35" fill="#000080" stroke="#000080" stroke-width="0.5"/>
<circle cx="591.40" cy="105.10" r="2.35" fill="#000080" stroke="#000080" stroke-width="0.5"/>
<circle cx="617.70" cy="100.50" r="2.35" fill="#000080" stroke="#000080" stroke-width="0.5"/>
<circle cx="670.30" cy="98.00" r="2.35" fill="#000080" stroke="#000080" stroke-width="0.5"/>
<text x="564.90" y="64.22" font-size="9.6" text-anchor="middle" font-weight="normal" fill="#333" letter-spacing="-0.2">***</text>
<text x="591.40" y="39.72" font-size="9.6" text-anchor="middle" font-weight="normal" fill="#333" letter-spacing="-0.2">***</text>
<text x="617.90" y="46.02" font-size="9.6" text-anchor="middle" font-weight="normal" fill="#333" letter-spacing="-0.2">***</text>
<text x="670.80" y="70.72" font-size="9.6" text-anchor="middle" font-weight="normal" fill="#333" letter-spacing="-0.2">***</text>
<text x="493.40" y="9.90" font-size="13" text-anchor="start" font-weight="bold" fill="#111" >C.</text>
<text x="548.60" y="8.20" font-size="9.95" text-anchor="start" font-weight="normal" fill="#262626" >Body temperature</text>
<text transform="translate(472.70,84.95) rotate(-90)" font-size="9.0" text-anchor="middle" fill="#262626">body temperature (°C)</text>
<line x1="31.70" y1="220.00" x2="31.70" y2="340.00" stroke="#4d4d4d" stroke-width="1.0" />
<line x1="31.20" y1="339.50" x2="211.70" y2="339.50" stroke="#404040" stroke-width="1.0" />
<line x1="28.20" y1="338.90" x2="31.70" y2="338.90" stroke="#4d4d4d" stroke-width="1.0" />
<text x="27.00" y="342.14" font-size="9.0" text-anchor="end" font-weight="normal" fill="#262626" >0</text>
<line x1="28.20" y1="309.30" x2="31.70" y2="309.30" stroke="#4d4d4d" stroke-width="1.0" />
<text x="27.00" y="312.54" font-size="9.0" text-anchor="end" font-weight="normal" fill="#262626" >100</text>
<line x1="28.20" y1="279.60" x2="31.70" y2="279.60" stroke="#4d4d4d" stroke-width="1.0" />
<text x="27.00" y="282.84" font-size="9.0" text-anchor="end" font-weight="normal" fill="#262626" >200</text>
<line x1="28.20" y1="249.60" x2="31.70" y2="249.60" stroke="#4d4d4d" stroke-width="1.0" />
<text x="27.00" y="252.84" font-size="9.0" text-anchor="end" font-weight="normal" fill="#262626" >300</text>
<line x1="28.20" y1="220.00" x2="31.70" y2="220.00" stroke="#4d4d4d" stroke-width="1.0" />
<text x="27.00" y="223.24" font-size="9.0" text-anchor="end" font-weight="normal" fill="#262626" >400</text>
<line x1="41.70" y1="339.50" x2="41.70" y2="343.00" stroke="#999" stroke-width="1.0" />
<line x1="67.33" y1="339.50" x2="67.33" y2="343.00" stroke="#999" stroke-width="1.0" />
<line x1="92.96" y1="339.50" x2="92.96" y2="343.00" stroke="#999" stroke-width="1.0" />
<line x1="118.59" y1="339.50" x2="118.59" y2="343.00" stroke="#999" stroke-width="1.0" />
<line x1="144.22" y1="339.50" x2="144.22" y2="343.00" stroke="#999" stroke-width="1.0" />
<line x1="169.85" y1="339.50" x2="169.85" y2="343.00" stroke="#999" stroke-width="1.0" />
<line x1="195.48" y1="339.50" x2="195.48" y2="343.00" stroke="#999" stroke-width="1.0" />
<text x="38.00" y="356.60" font-size="8.4" text-anchor="middle" font-weight="normal" fill="#262626" >baseline</text>
<text x="68.00" y="356.60" font-size="8.4" text-anchor="middle" font-weight="normal" fill="#262626" >+1h</text>
<text x="94.00" y="356.60" font-size="8.4" text-anchor="middle" font-weight="normal" fill="#262626" >+2h</text>
<text x="120.20" y="356.60" font-size="8.4" text-anchor="middle" font-weight="normal" fill="#262626" >+3h</text>
<text x="144.00" y="356.60" font-size="8.4" text-anchor="middle" font-weight="normal" fill="#262626" >+4h</text>
<text x="195.30" y="356.60" font-size="8.4" text-anchor="middle" font-weight="normal" fill="#262626" >+6h</text>
<polyline points="41.70,335.50 67.33,333.00 92.96,321.00 118.59,254.50 144.22,311.40 195.48,336.00" fill="none" stroke="#333333" stroke-width="0.85"/>
<polyline points="41.70,335.00 67.33,331.40 92.96,322.20 118.59,287.90 144.22,318.50 195.48,335.50" fill="none" stroke="#333333" stroke-width="0.85"/>
<polyline points="41.70,336.00 67.33,335.80 92.96,335.60 118.59,313.00 144.22,314.60 195.48,336.30" fill="none" stroke="#7a7aff" stroke-width="0.85"/>
<polyline points="41.70,335.70 67.33,335.30 92.96,332.40 118.59,314.40 144.22,322.10 195.48,336.00" fill="none" stroke="#22228f" stroke-width="0.85"/>
<line x1="41.70" y1="334.50" x2="41.70" y2="336.50" stroke="#383838" stroke-width="0.8" />
<line x1="39.20" y1="334.50" x2="44.20" y2="334.50" stroke="#383838" stroke-width="0.8" />
<line x1="39.20" y1="336.50" x2="44.20" y2="336.50" stroke="#383838" stroke-width="0.8" />
<line x1="67.33" y1="332.00" x2="67.33" y2="334.00" stroke="#383838" stroke-width="0.8" />
<line x1="64.83" y1="332.00" x2="69.83" y2="332.00" stroke="#383838" stroke-width="0.8" />
<line x1="64.83" y1="334.00" x2="69.83" y2="334.00" stroke="#383838" stroke-width="0.8" />
<line x1="92.96" y1="317.00" x2="92.96" y2="325.00" stroke="#383838" stroke-width="0.8" />
<line x1="90.46" y1="317.00" x2="95.46" y2="317.00" stroke="#383838" stroke-width="0.8" />
<line x1="90.46" y1="325.00" x2="95.46" y2="325.00" stroke="#383838" stroke-width="0.8" />
<line x1="118.59" y1="234.50" x2="118.59" y2="274.50" stroke="#383838" stroke-width="0.8" />
<line x1="116.09" y1="234.50" x2="121.09" y2="234.50" stroke="#383838" stroke-width="0.8" />
<line x1="116.09" y1="274.50" x2="121.09" y2="274.50" stroke="#383838" stroke-width="0.8" />
<line x1="144.22" y1="306.40" x2="144.22" y2="316.40" stroke="#383838" stroke-width="0.8" />
<line x1="141.72" y1="306.40" x2="146.72" y2="306.40" stroke="#383838" stroke-width="0.8" />
<line x1="141.72" y1="316.40" x2="146.72" y2="316.40" stroke="#383838" stroke-width="0.8" />
<line x1="195.48" y1="335.00" x2="195.48" y2="337.00" stroke="#383838" stroke-width="0.8" />
<line x1="192.98" y1="335.00" x2="197.98" y2="335.00" stroke="#383838" stroke-width="0.8" />
<line x1="192.98" y1="337.00" x2="197.98" y2="337.00" stroke="#383838" stroke-width="0.8" />
<line x1="41.70" y1="334.00" x2="41.70" y2="336.00" stroke="#383838" stroke-width="0.8" />
<line x1="39.20" y1="334.00" x2="44.20" y2="334.00" stroke="#383838" stroke-width="0.8" />
<line x1="39.20" y1="336.00" x2="44.20" y2="336.00" stroke="#383838" stroke-width="0.8" />
<line x1="67.33" y1="329.90" x2="67.33" y2="332.90" stroke="#383838" stroke-width="0.8" />
<line x1="64.83" y1="329.90" x2="69.83" y2="329.90" stroke="#383838" stroke-width="0.8" />
<line x1="64.83" y1="332.90" x2="69.83" y2="332.90" stroke="#383838" stroke-width="0.8" />
<line x1="92.96" y1="316.60" x2="92.96" y2="327.80" stroke="#383838" stroke-width="0.8" />
<line x1="90.46" y1="316.60" x2="95.46" y2="316.60" stroke="#383838" stroke-width="0.8" />
<line x1="90.46" y1="327.80" x2="95.46" y2="327.80" stroke="#383838" stroke-width="0.8" />
<line x1="118.59" y1="274.50" x2="118.59" y2="301.30" stroke="#383838" stroke-width="0.8" />
<line x1="116.09" y1="274.50" x2="121.09" y2="274.50" stroke="#383838" stroke-width="0.8" />
<line x1="116.09" y1="301.30" x2="121.09" y2="301.30" stroke="#383838" stroke-width="0.8" />
<line x1="144.22" y1="314.50" x2="144.22" y2="322.50" stroke="#383838" stroke-width="0.8" />
<line x1="141.72" y1="314.50" x2="146.72" y2="314.50" stroke="#383838" stroke-width="0.8" />
<line x1="141.72" y1="322.50" x2="146.72" y2="322.50" stroke="#383838" stroke-width="0.8" />
<line x1="195.48" y1="334.50" x2="195.48" y2="336.50" stroke="#383838" stroke-width="0.8" />
<line x1="192.98" y1="334.50" x2="197.98" y2="334.50" stroke="#383838" stroke-width="0.8" />
<line x1="192.98" y1="336.50" x2="197.98" y2="336.50" stroke="#383838" stroke-width="0.8" />
<line x1="41.70" y1="335.00" x2="41.70" y2="337.00" stroke="#8c8cff" stroke-width="0.75" />
<line x1="39.20" y1="335.00" x2="44.20" y2="335.00" stroke="#8c8cff" stroke-width="0.75" />
<line x1="39.20" y1="337.00" x2="44.20" y2="337.00" stroke="#8c8cff" stroke-width="0.75" />
<line x1="67.33" y1="334.80" x2="67.33" y2="336.80" stroke="#8c8cff" stroke-width="0.75" />
<line x1="64.83" y1="334.80" x2="69.83" y2="334.80" stroke="#8c8cff" stroke-width="0.75" />
<line x1="64.83" y1="336.80" x2="69.83" y2="336.80" stroke="#8c8cff" stroke-width="0.75" />
<line x1="92.96" y1="334.10" x2="92.96" y2="337.10" stroke="#8c8cff" stroke-width="0.75" />
<line x1="90.46" y1="334.10" x2="95.46" y2="334.10" stroke="#8c8cff" stroke-width="0.75" />
<line x1="90.46" y1="337.10" x2="95.46" y2="337.10" stroke="#8c8cff" stroke-width="0.75" />
<line x1="118.59" y1="309.50" x2="118.59" y2="316.50" stroke="#8c8cff" stroke-width="0.75" />
<line x1="116.09" y1="309.50" x2="121.09" y2="309.50" stroke="#8c8cff" stroke-width="0.75" />
<line x1="116.09" y1="316.50" x2="121.09" y2="316.50" stroke="#8c8cff" stroke-width="0.75" />
<line x1="144.22" y1="304.10" x2="144.22" y2="325.10" stroke="#8c8cff" stroke-width="0.75" />
<line x1="141.72" y1="304.10" x2="146.72" y2="304.10" stroke="#8c8cff" stroke-width="0.75" />
<line x1="141.72" y1="325.10" x2="146.72" y2="325.10" stroke="#8c8cff" stroke-width="0.75" />
<line x1="195.48" y1="335.30" x2="195.48" y2="337.30" stroke="#8c8cff" stroke-width="0.75" />
<line x1="192.98" y1="335.30" x2="197.98" y2="335.30" stroke="#8c8cff" stroke-width="0.75" />
<line x1="192.98" y1="337.30" x2="197.98" y2="337.30" stroke="#8c8cff" stroke-width="0.75" />
<line x1="41.70" y1="334.70" x2="41.70" y2="336.70" stroke="#3c3c9c" stroke-width="0.75" />
<line x1="39.20" y1="334.70" x2="44.20" y2="334.70" stroke="#3c3c9c" stroke-width="0.75" />
<line x1="39.20" y1="336.70" x2="44.20" y2="336.70" stroke="#3c3c9c" stroke-width="0.75" />
<line x1="67.33" y1="333.80" x2="67.33" y2="336.80" stroke="#3c3c9c" stroke-width="0.75" />
<line x1="64.83" y1="333.80" x2="69.83" y2="333.80" stroke="#3c3c9c" stroke-width="0.75" />
<line x1="64.83" y1="336.80" x2="69.83" y2="336.80" stroke="#3c3c9c" stroke-width="0.75" />
<line x1="92.96" y1="330.40" x2="92.96" y2="334.40" stroke="#3c3c9c" stroke-width="0.75" />
<line x1="90.46" y1="330.40" x2="95.46" y2="330.40" stroke="#3c3c9c" stroke-width="0.75" />
<line x1="90.46" y1="334.40" x2="95.46" y2="334.40" stroke="#3c3c9c" stroke-width="0.75" />
<line x1="118.59" y1="311.40" x2="118.59" y2="317.40" stroke="#3c3c9c" stroke-width="0.75" />
<line x1="116.09" y1="311.40" x2="121.09" y2="311.40" stroke="#3c3c9c" stroke-width="0.75" />
<line x1="116.09" y1="317.40" x2="121.09" y2="317.40" stroke="#3c3c9c" stroke-width="0.75" />
<line x1="144.22" y1="316.10" x2="144.22" y2="328.10" stroke="#3c3c9c" stroke-width="0.75" />
<line x1="141.72" y1="316.10" x2="146.72" y2="316.10" stroke="#3c3c9c" stroke-width="0.75" />
<line x1="141.72" y1="328.10" x2="146.72" y2="328.10" stroke="#3c3c9c" stroke-width="0.75" />
<line x1="195.48" y1="335.00" x2="195.48" y2="337.00" stroke="#3c3c9c" stroke-width="0.75" />
<line x1="192.98" y1="335.00" x2="197.98" y2="335.00" stroke="#3c3c9c" stroke-width="0.75" />
<line x1="192.98" y1="337.00" x2="197.98" y2="337.00" stroke="#3c3c9c" stroke-width="0.75" />
<polygon points="41.70,332.76 39.15,337.18 44.25,337.18" fill="#e8e8e8" stroke="#333333" stroke-width="0.8" stroke-linejoin="miter"/>
<polygon points="67.33,330.26 64.78,334.68 69.88,334.68" fill="#e8e8e8" stroke="#333333" stroke-width="0.8" stroke-linejoin="miter"/>
<polygon points="92.96,318.26 90.41,322.68 95.51,322.68" fill="#e8e8e8" stroke="#333333" stroke-width="0.8" stroke-linejoin="miter"/>
<polygon points="118.59,251.76 116.04,256.18 121.14,256.18" fill="#e8e8e8" stroke="#333333" stroke-width="0.8" stroke-linejoin="miter"/>
<polygon points="144.22,308.66 141.67,313.08 146.77,313.08" fill="#e8e8e8" stroke="#333333" stroke-width="0.8" stroke-linejoin="miter"/>
<polygon points="195.48,333.26 192.93,337.68 198.03,337.68" fill="#e8e8e8" stroke="#333333" stroke-width="0.8" stroke-linejoin="miter"/>
<circle cx="41.70" cy="335.00" r="2.2" fill="#666666" stroke="#333333" stroke-width="0.8"/>
<circle cx="67.33" cy="331.40" r="2.2" fill="#666666" stroke="#333333" stroke-width="0.8"/>
<circle cx="92.96" cy="322.20" r="2.2" fill="#666666" stroke="#333333" stroke-width="0.8"/>
<circle cx="118.59" cy="287.90" r="2.2" fill="#666666" stroke="#333333" stroke-width="0.8"/>
<circle cx="144.22" cy="318.50" r="2.2" fill="#666666" stroke="#333333" stroke-width="0.8"/>
<circle cx="195.48" cy="335.50" r="2.2" fill="#666666" stroke="#333333" stroke-width="0.8"/>
<polygon points="41.70,333.10 39.00,337.78 44.40,337.78" fill="#7373ff" stroke="#7373ff" stroke-width="0.5" stroke-linejoin="miter"/>
<polygon points="67.33,332.90 64.63,337.58 70.03,337.58" fill="#7373ff" stroke="#7373ff" stroke-width="0.5" stroke-linejoin="miter"/>
<polygon points="92.96,332.70 90.26,337.38 95.66,337.38" fill="#7373ff" stroke="#7373ff" stroke-width="0.5" stroke-linejoin="miter"/>
<polygon points="118.59,310.10 115.89,314.78 121.29,314.78" fill="#7373ff" stroke="#7373ff" stroke-width="0.5" stroke-linejoin="miter"/>
<polygon points="144.22,311.70 141.52,316.38 146.92,316.38" fill="#7373ff" stroke="#7373ff" stroke-width="0.5" stroke-linejoin="miter"/>
<polygon points="195.48,333.40 192.78,338.08 198.18,338.08" fill="#7373ff" stroke="#7373ff" stroke-width="0.5" stroke-linejoin="miter"/>
<circle cx="41.70" cy="335.70" r="2.35" fill="#000080" stroke="#000080" stroke-width="0.5"/>
<circle cx="67.33" cy="335.30" r="2.35" fill="#000080" stroke="#000080" stroke-width="0.5"/>
<circle cx="92.96" cy="332.40" r="2.35" fill="#000080" stroke="#000080" stroke-width="0.5"/>
<circle cx="118.59" cy="314.40" r="2.35" fill="#000080" stroke="#000080" stroke-width="0.5"/>
<circle cx="144.22" cy="322.10" r="2.35" fill="#000080" stroke="#000080" stroke-width="0.5"/>
<circle cx="195.48" cy="336.00" r="2.35" fill="#000080" stroke="#000080" stroke-width="0.5"/>
<text x="92.30" y="312.02" font-size="9.6" text-anchor="middle" font-weight="normal" fill="#333" letter-spacing="-0.2">***</text>
<text x="118.70" y="229.82" font-size="9.6" text-anchor="middle" font-weight="normal" fill="#333" letter-spacing="-0.2">***</text>
<text x="28.20" y="205.30" font-size="13" text-anchor="start" font-weight="bold" fill="#111" >D.</text>
<text x="108.60" y="205.90" font-size="9.6" text-anchor="start" font-weight="normal" fill="#262626" >ACTH</text>
<text transform="translate(8.00,280.15) rotate(-90)" font-size="8.95" text-anchor="middle" fill="#262626">plasma concentration (pg/ml)</text>
<line x1="260.00" y1="220.20" x2="260.00" y2="339.40" stroke="#4d4d4d" stroke-width="1.0" />
<line x1="259.50" y1="338.90" x2="438.40" y2="338.90" stroke="#aaa" stroke-width="1.3" />
<line x1="256.50" y1="338.50" x2="260.00" y2="338.50" stroke="#4d4d4d" stroke-width="1.0" />
<text x="255.00" y="341.52" font-size="8.4" text-anchor="end" font-weight="normal" fill="#262626" >0</text>
<line x1="256.50" y1="309.30" x2="260.00" y2="309.30" stroke="#4d4d4d" stroke-width="1.0" />
<text x="255.00" y="312.32" font-size="8.4" text-anchor="end" font-weight="normal" fill="#262626" >200</text>
<line x1="256.50" y1="279.70" x2="260.00" y2="279.70" stroke="#4d4d4d" stroke-width="1.0" />
<text x="255.00" y="282.72" font-size="8.4" text-anchor="end" font-weight="normal" fill="#262626" >400</text>
<line x1="256.50" y1="250.20" x2="260.00" y2="250.20" stroke="#4d4d4d" stroke-width="1.0" />
<text x="255.00" y="253.22" font-size="8.4" text-anchor="end" font-weight="normal" fill="#262626" >600</text>
<line x1="256.50" y1="220.30" x2="260.00" y2="220.30" stroke="#4d4d4d" stroke-width="1.0" />
<text x="255.00" y="223.32" font-size="8.4" text-anchor="end" font-weight="normal" fill="#262626" >800</text>
<line x1="270.30" y1="338.90" x2="270.30" y2="342.40" stroke="#4d4d4d" stroke-width="1.0" />
<line x1="295.65" y1="338.90" x2="295.65" y2="342.40" stroke="#4d4d4d" stroke-width="1.0" />
<line x1="321.00" y1="338.90" x2="321.00" y2="342.40" stroke="#4d4d4d" stroke-width="1.0" />
<line x1="346.35" y1="338.90" x2="346.35" y2="342.40" stroke="#4d4d4d" stroke-width="1.0" />
<line x1="371.70" y1="338.90" x2="371.70" y2="342.40" stroke="#4d4d4d" stroke-width="1.0" />
<line x1="397.05" y1="338.90" x2="397.05" y2="342.40" stroke="#4d4d4d" stroke-width="1.0" />
<line x1="422.40" y1="338.90" x2="422.40" y2="342.40" stroke="#4d4d4d" stroke-width="1.0" />
<text x="266.20" y="356.00" font-size="8.4" text-anchor="middle" font-weight="normal" fill="#262626" >baseline</text>
<text x="296.10" y="356.00" font-size="8.4" text-anchor="middle" font-weight="normal" fill="#262626" >+1h</text>
<text x="321.80" y="356.00" font-size="8.4" text-anchor="middle" font-weight="normal" fill="#262626" >+2h</text>
<text x="347.50" y="356.00" font-size="8.4" text-anchor="middle" font-weight="normal" fill="#262626" >+3h</text>
<text x="371.50" y="356.00" font-size="8.4" text-anchor="middle" font-weight="normal" fill="#262626" >+4h</text>
<text x="422.60" y="356.00" font-size="8.4" text-anchor="middle" font-weight="normal" fill="#262626" >+6h</text>
<polyline points="270.30,301.00 295.65,304.00 321.00,266.50 346.35,244.90 371.70,238.60 422.40,283.60" fill="none" stroke="#333333" stroke-width="0.85"/>
<polyline points="270.30,302.00 295.65,304.40 321.00,263.10 346.35,237.00 371.70,240.80 422.40,286.00" fill="none" stroke="#333333" stroke-width="0.85"/>
<polyline points="270.30,299.80 295.65,302.10 321.00,299.00 346.35,258.50 371.70,258.50 422.40,293.50" fill="none" stroke="#7a7aff" stroke-width="0.85"/>
<polyline points="270.30,304.40 295.65,307.30 321.00,299.80 346.35,265.70 371.70,259.70 422.40,299.90" fill="none" stroke="#22228f" stroke-width="0.85"/>
<line x1="270.30" y1="299.00" x2="270.30" y2="303.00" stroke="#383838" stroke-width="0.8" />
<line x1="267.80" y1="299.00" x2="272.80" y2="299.00" stroke="#383838" stroke-width="0.8" />
<line x1="267.80" y1="303.00" x2="272.80" y2="303.00" stroke="#383838" stroke-width="0.8" />
<line x1="295.65" y1="302.00" x2="295.65" y2="306.00" stroke="#383838" stroke-width="0.8" />
<line x1="293.15" y1="302.00" x2="298.15" y2="302.00" stroke="#383838" stroke-width="0.8" />
<line x1="293.15" y1="306.00" x2="298.15" y2="306.00" stroke="#383838" stroke-width="0.8" />
<line x1="321.00" y1="263.50" x2="321.00" y2="269.50" stroke="#383838" stroke-width="0.8" />
<line x1="318.50" y1="263.50" x2="323.50" y2="263.50" stroke="#383838" stroke-width="0.8" />
<line x1="318.50" y1="269.50" x2="323.50" y2="269.50" stroke="#383838" stroke-width="0.8" />
<line x1="346.35" y1="240.90" x2="346.35" y2="248.90" stroke="#383838" stroke-width="0.8" />
<line x1="343.85" y1="240.90" x2="348.85" y2="240.90" stroke="#383838" stroke-width="0.8" />
<line x1="343.85" y1="248.90" x2="348.85" y2="248.90" stroke="#383838" stroke-width="0.8" />
<line x1="371.70" y1="231.60" x2="371.70" y2="245.60" stroke="#383838" stroke-width="0.8" />
<line x1="369.20" y1="231.60" x2="374.20" y2="231.60" stroke="#383838" stroke-width="0.8" />
<line x1="369.20" y1="245.60" x2="374.20" y2="245.60" stroke="#383838" stroke-width="0.8" />
<line x1="422.40" y1="280.60" x2="422.40" y2="286.60" stroke="#383838" stroke-width="0.8" />
<line x1="419.90" y1="280.60" x2="424.90" y2="280.60" stroke="#383838" stroke-width="0.8" />
<line x1="419.90" y1="286.60" x2="424.90" y2="286.60" stroke="#383838" stroke-width="0.8" />
<line x1="270.30" y1="300.00" x2="270.30" y2="304.00" stroke="#383838" stroke-width="0.8" />
<line x1="267.80" y1="300.00" x2="272.80" y2="300.00" stroke="#383838" stroke-width="0.8" />
<line x1="267.80" y1="304.00" x2="272.80" y2="304.00" stroke="#383838" stroke-width="0.8" />
<line x1="295.65" y1="302.40" x2="295.65" y2="306.40" stroke="#383838" stroke-width="0.8" />
<line x1="293.15" y1="302.40" x2="298.15" y2="302.40" stroke="#383838" stroke-width="0.8" />
<line x1="293.15" y1="306.40" x2="298.15" y2="306.40" stroke="#383838" stroke-width="0.8" />
<line x1="321.00" y1="258.50" x2="321.00" y2="267.70" stroke="#383838" stroke-width="0.8" />
<line x1="318.50" y1="258.50" x2="323.50" y2="258.50" stroke="#383838" stroke-width="0.8" />
<line x1="318.50" y1="267.70" x2="323.50" y2="267.70" stroke="#383838" stroke-width="0.8" />
<line x1="346.35" y1="230.60" x2="346.35" y2="243.40" stroke="#383838" stroke-width="0.8" />
<line x1="343.85" y1="230.60" x2="348.85" y2="230.60" stroke="#383838" stroke-width="0.8" />
<line x1="343.85" y1="243.40" x2="348.85" y2="243.40" stroke="#383838" stroke-width="0.8" />
<line x1="371.70" y1="233.60" x2="371.70" y2="248.00" stroke="#383838" stroke-width="0.8" />
<line x1="369.20" y1="233.60" x2="374.20" y2="233.60" stroke="#383838" stroke-width="0.8" />
<line x1="369.20" y1="248.00" x2="374.20" y2="248.00" stroke="#383838" stroke-width="0.8" />
<line x1="422.40" y1="281.90" x2="422.40" y2="290.10" stroke="#383838" stroke-width="0.8" />
<line x1="419.90" y1="281.90" x2="424.90" y2="281.90" stroke="#383838" stroke-width="0.8" />
<line x1="419.90" y1="290.10" x2="424.90" y2="290.10" stroke="#383838" stroke-width="0.8" />
<line x1="270.30" y1="294.10" x2="270.30" y2="305.50" stroke="#8c8cff" stroke-width="0.75" />
<line x1="267.80" y1="294.10" x2="272.80" y2="294.10" stroke="#8c8cff" stroke-width="0.75" />
<line x1="267.80" y1="305.50" x2="272.80" y2="305.50" stroke="#8c8cff" stroke-width="0.75" />
<line x1="295.65" y1="296.60" x2="295.65" y2="307.60" stroke="#8c8cff" stroke-width="0.75" />
<line x1="293.15" y1="296.60" x2="298.15" y2="296.60" stroke="#8c8cff" stroke-width="0.75" />
<line x1="293.15" y1="307.60" x2="298.15" y2="307.60" stroke="#8c8cff" stroke-width="0.75" />
<line x1="321.00" y1="293.00" x2="321.00" y2="305.00" stroke="#8c8cff" stroke-width="0.75" />
<line x1="318.50" y1="293.00" x2="323.50" y2="293.00" stroke="#8c8cff" stroke-width="0.75" />
<line x1="318.50" y1="305.00" x2="323.50" y2="305.00" stroke="#8c8cff" stroke-width="0.75" />
<line x1="346.35" y1="249.50" x2="346.35" y2="267.50" stroke="#8c8cff" stroke-width="0.75" />
<line x1="343.85" y1="249.50" x2="348.85" y2="249.50" stroke="#8c8cff" stroke-width="0.75" />
<line x1="343.85" y1="267.50" x2="348.85" y2="267.50" stroke="#8c8cff" stroke-width="0.75" />
<line x1="371.70" y1="248.90" x2="371.70" y2="268.10" stroke="#8c8cff" stroke-width="0.75" />
<line x1="369.20" y1="248.90" x2="374.20" y2="248.90" stroke="#8c8cff" stroke-width="0.75" />
<line x1="369.20" y1="268.10" x2="374.20" y2="268.10" stroke="#8c8cff" stroke-width="0.75" />
<line x1="422.40" y1="290.50" x2="422.40" y2="296.50" stroke="#8c8cff" stroke-width="0.75" />
<line x1="419.90" y1="290.50" x2="424.90" y2="290.50" stroke="#8c8cff" stroke-width="0.75" />
<line x1="419.90" y1="296.50" x2="424.90" y2="296.50" stroke="#8c8cff" stroke-width="0.75" />
<line x1="270.30" y1="302.40" x2="270.30" y2="306.40" stroke="#3c3c9c" stroke-width="0.75" />
<line x1="267.80" y1="302.40" x2="272.80" y2="302.40" stroke="#3c3c9c" stroke-width="0.75" />
<line x1="267.80" y1="306.40" x2="272.80" y2="306.40" stroke="#3c3c9c" stroke-width="0.75" />
<line x1="295.65" y1="305.30" x2="295.65" y2="309.30" stroke="#3c3c9c" stroke-width="0.75" />
<line x1="293.15" y1="305.30" x2="298.15" y2="305.30" stroke="#3c3c9c" stroke-width="0.75" />
<line x1="293.15" y1="309.30" x2="298.15" y2="309.30" stroke="#3c3c9c" stroke-width="0.75" />
<line x1="321.00" y1="296.80" x2="321.00" y2="302.80" stroke="#3c3c9c" stroke-width="0.75" />
<line x1="318.50" y1="296.80" x2="323.50" y2="296.80" stroke="#3c3c9c" stroke-width="0.75" />
<line x1="318.50" y1="302.80" x2="323.50" y2="302.80" stroke="#3c3c9c" stroke-width="0.75" />
<line x1="346.35" y1="261.40" x2="346.35" y2="270.00" stroke="#3c3c9c" stroke-width="0.75" />
<line x1="343.85" y1="261.40" x2="348.85" y2="261.40" stroke="#3c3c9c" stroke-width="0.75" />
<line x1="343.85" y1="270.00" x2="348.85" y2="270.00" stroke="#3c3c9c" stroke-width="0.75" />
<line x1="371.70" y1="254.00" x2="371.70" y2="265.40" stroke="#3c3c9c" stroke-width="0.75" />
<line x1="369.20" y1="254.00" x2="374.20" y2="254.00" stroke="#3c3c9c" stroke-width="0.75" />
<line x1="369.20" y1="265.40" x2="374.20" y2="265.40" stroke="#3c3c9c" stroke-width="0.75" />
<line x1="422.40" y1="297.40" x2="422.40" y2="302.40" stroke="#3c3c9c" stroke-width="0.75" />
<line x1="419.90" y1="297.40" x2="424.90" y2="297.40" stroke="#3c3c9c" stroke-width="0.75" />
<line x1="419.90" y1="302.40" x2="424.90" y2="302.40" stroke="#3c3c9c" stroke-width="0.75" />
<polygon points="270.30,298.26 267.75,302.68 272.85,302.68" fill="#e8e8e8" stroke="#333333" stroke-width="0.8" stroke-linejoin="miter"/>
<polygon points="295.65,301.26 293.10,305.68 298.20,305.68" fill="#e8e8e8" stroke="#333333" stroke-width="0.8" stroke-linejoin="miter"/>
<polygon points="321.00,263.76 318.45,268.18 323.55,268.18" fill="#e8e8e8" stroke="#333333" stroke-width="0.8" stroke-linejoin="miter"/>
<polygon points="346.35,242.16 343.80,246.58 348.90,246.58" fill="#e8e8e8" stroke="#333333" stroke-width="0.8" stroke-linejoin="miter"/>
<polygon points="371.70,235.86 369.15,240.28 374.25,240.28" fill="#e8e8e8" stroke="#333333" stroke-width="0.8" stroke-linejoin="miter"/>
<polygon points="422.40,280.86 419.85,285.28 424.95,285.28" fill="#e8e8e8" stroke="#333333" stroke-width="0.8" stroke-linejoin="miter"/>
<circle cx="270.30" cy="302.00" r="2.2" fill="#666666" stroke="#333333" stroke-width="0.8"/>
<circle cx="295.65" cy="304.40" r="2.2" fill="#666666" stroke="#333333" stroke-width="0.8"/>
<circle cx="321.00" cy="263.10" r="2.2" fill="#666666" stroke="#333333" stroke-width="0.8"/>
<circle cx="346.35" cy="237.00" r="2.2" fill="#666666" stroke="#333333" stroke-width="0.8"/>
<circle cx="371.70" cy="240.80" r="2.2" fill="#666666" stroke="#333333" stroke-width="0.8"/>
<circle cx="422.40" cy="286.00" r="2.2" fill="#666666" stroke="#333333" stroke-width="0.8"/>
<polygon points="270.30,296.90 267.60,301.58 273.00,301.58" fill="#7373ff" stroke="#7373ff" stroke-width="0.5" stroke-linejoin="miter"/>
<polygon points="295.65,299.20 292.95,303.88 298.35,303.88" fill="#7373ff" stroke="#7373ff" stroke-width="0.5" stroke-linejoin="miter"/>
<polygon points="321.00,296.10 318.30,300.78 323.70,300.78" fill="#7373ff" stroke="#7373ff" stroke-width="0.5" stroke-linejoin="miter"/>
<polygon points="346.35,255.60 343.65,260.28 349.05,260.28" fill="#7373ff" stroke="#7373ff" stroke-width="0.5" stroke-linejoin="miter"/>
<polygon points="371.70,255.60 369.00,260.28 374.40,260.28" fill="#7373ff" stroke="#7373ff" stroke-width="0.5" stroke-linejoin="miter"/>
<polygon points="422.40,290.60 419.70,295.28 425.10,295.28" fill="#7373ff" stroke="#7373ff" stroke-width="0.5" stroke-linejoin="miter"/>
<circle cx="270.30" cy="304.40" r="2.35" fill="#000080" stroke="#000080" stroke-width="0.5"/>
<circle cx="295.65" cy="307.30" r="2.35" fill="#000080" stroke="#000080" stroke-width="0.5"/>
<circle cx="321.00" cy="299.80" r="2.35" fill="#000080" stroke="#000080" stroke-width="0.5"/>
<circle cx="346.35" cy="265.70" r="2.35" fill="#000080" stroke="#000080" stroke-width="0.5"/>
<circle cx="371.70" cy="259.70" r="2.35" fill="#000080" stroke="#000080" stroke-width="0.5"/>
<circle cx="422.40" cy="299.90" r="2.35" fill="#000080" stroke="#000080" stroke-width="0.5"/>
<text x="321.40" y="255.92" font-size="9.6" text-anchor="middle" font-weight="normal" fill="#333" letter-spacing="-0.2">***</text>
<text x="346.50" y="228.32" font-size="9.6" text-anchor="middle" font-weight="normal" fill="#333" letter-spacing="-0.2">***</text>
<text x="371.80" y="230.02" font-size="9.6" text-anchor="middle" font-weight="normal" fill="#333" letter-spacing="-0.2">***</text>
<text x="422.50" y="277.12" font-size="9.6" text-anchor="middle" font-weight="normal" fill="#333" letter-spacing="-0.2">***</text>
<text x="257.00" y="205.00" font-size="13" text-anchor="start" font-weight="bold" fill="#111" >E.</text>
<text x="332.90" y="206.60" font-size="9.6" text-anchor="start" font-weight="normal" fill="#262626" >Cortisol</text>
<text transform="translate(236.30,279.30) rotate(-90)" font-size="8.78" text-anchor="middle" fill="#262626">plasma concentration (nmol/l)</text>
<line x1="500.50" y1="219.00" x2="500.50" y2="331.40" stroke="#4d4d4d" stroke-width="1.0" />
<line x1="500.50" y1="331.40" x2="500.50" y2="341.00" stroke="#4d4d4d" stroke-width="1.0" />
<line x1="496.30" y1="333.40" x2="504.70" y2="329.40" stroke="#4d4d4d" stroke-width="0.9" />
<line x1="496.30" y1="337.30" x2="504.70" y2="333.30" stroke="#4d4d4d" stroke-width="0.9" />
<line x1="500.00" y1="340.50" x2="682.80" y2="340.50" stroke="#555" stroke-width="1.0" />
<line x1="497.00" y1="326.50" x2="500.50" y2="326.50" stroke="#4d4d4d" stroke-width="1.0" />
<text x="494.30" y="329.60" font-size="8.6" text-anchor="end" font-weight="normal" fill="#262626" >60</text>
<line x1="497.00" y1="299.70" x2="500.50" y2="299.70" stroke="#4d4d4d" stroke-width="1.0" />
<text x="494.30" y="302.80" font-size="8.6" text-anchor="end" font-weight="normal" fill="#262626" >70</text>
<line x1="497.00" y1="273.20" x2="500.50" y2="273.20" stroke="#4d4d4d" stroke-width="1.0" />
<text x="494.30" y="276.30" font-size="8.6" text-anchor="end" font-weight="normal" fill="#262626" >80</text>
<line x1="497.00" y1="246.40" x2="500.50" y2="246.40" stroke="#4d4d4d" stroke-width="1.0" />
<text x="494.30" y="249.50" font-size="8.6" text-anchor="end" font-weight="normal" fill="#262626" >90</text>
<line x1="497.00" y1="219.00" x2="500.50" y2="219.00" stroke="#4d4d4d" stroke-width="1.0" />
<text x="494.30" y="222.10" font-size="8.6" text-anchor="end" font-weight="normal" fill="#262626" >100</text>
<line x1="513.50" y1="340.50" x2="513.50" y2="344.00" stroke="#4d4d4d" stroke-width="1.0" />
<line x1="540.45" y1="340.50" x2="540.45" y2="344.00" stroke="#4d4d4d" stroke-width="1.0" />
<line x1="567.40" y1="340.50" x2="567.40" y2="344.00" stroke="#4d4d4d" stroke-width="1.0" />
<line x1="594.35" y1="340.50" x2="594.35" y2="344.00" stroke="#4d4d4d" stroke-width="1.0" />
<line x1="621.30" y1="340.50" x2="621.30" y2="344.00" stroke="#4d4d4d" stroke-width="1.0" />
<line x1="648.25" y1="340.50" x2="648.25" y2="344.00" stroke="#4d4d4d" stroke-width="1.0" />
<line x1="675.20" y1="340.50" x2="675.20" y2="344.00" stroke="#4d4d4d" stroke-width="1.0" />
<text x="510.00" y="354.30" font-size="8.4" text-anchor="middle" font-weight="normal" fill="#262626" >baseline</text>
<text x="537.70" y="354.30" font-size="8.4" text-anchor="middle" font-weight="normal" fill="#262626" >+1h</text>
<text x="564.00" y="354.30" font-size="8.4" text-anchor="middle" font-weight="normal" fill="#262626" >+2h</text>
<text x="591.00" y="354.30" font-size="8.4" text-anchor="middle" font-weight="normal" fill="#262626" >+3h</text>
<text x="620.10" y="354.30" font-size="8.4" text-anchor="middle" font-weight="normal" fill="#262626" >+4h</text>
<text x="677.40" y="354.30" font-size="8.4" text-anchor="middle" font-weight="normal" fill="#262626" >+6h</text>
<polyline points="513.50,293.30 540.45,300.00 567.40,278.20 594.35,254.90 621.30,255.60 675.20,260.50" fill="none" stroke="#333333" stroke-width="0.85"/>
<polyline points="513.50,303.40 540.45,302.00 567.40,282.70 594.35,259.00 621.30,259.40 675.20,270.00" fill="none" stroke="#333333" stroke-width="0.85"/>
<polyline points="513.50,292.30 540.45,298.40 567.40,289.90 594.35,267.50 621.30,262.80 675.20,271.30" fill="none" stroke="#7a7aff" stroke-width="0.85"/>
<polyline points="513.50,298.40 540.45,315.50 567.40,293.80 594.35,273.20 621.30,268.10 675.20,276.00" fill="none" stroke="#22228f" stroke-width="0.85"/>
<line x1="513.50" y1="288.30" x2="513.50" y2="298.30" stroke="#383838" stroke-width="0.8" />
<line x1="511.00" y1="288.30" x2="516.00" y2="288.30" stroke="#383838" stroke-width="0.8" />
<line x1="511.00" y1="298.30" x2="516.00" y2="298.30" stroke="#383838" stroke-width="0.8" />
<line x1="540.45" y1="296.00" x2="540.45" y2="304.00" stroke="#383838" stroke-width="0.8" />
<line x1="537.95" y1="296.00" x2="542.95" y2="296.00" stroke="#383838" stroke-width="0.8" />
<line x1="537.95" y1="304.00" x2="542.95" y2="304.00" stroke="#383838" stroke-width="0.8" />
<line x1="567.40" y1="271.20" x2="567.40" y2="285.20" stroke="#383838" stroke-width="0.8" />
<line x1="564.90" y1="271.20" x2="569.90" y2="271.20" stroke="#383838" stroke-width="0.8" />
<line x1="564.90" y1="285.20" x2="569.90" y2="285.20" stroke="#383838" stroke-width="0.8" />
<line x1="594.35" y1="247.70" x2="594.35" y2="262.10" stroke="#383838" stroke-width="0.8" />
<line x1="591.85" y1="247.70" x2="596.85" y2="247.70" stroke="#383838" stroke-width="0.8" />
<line x1="591.85" y1="262.10" x2="596.85" y2="262.10" stroke="#383838" stroke-width="0.8" />
<line x1="621.30" y1="249.20" x2="621.30" y2="262.00" stroke="#383838" stroke-width="0.8" />
<line x1="618.80" y1="249.20" x2="623.80" y2="249.20" stroke="#383838" stroke-width="0.8" />
<line x1="618.80" y1="262.00" x2="623.80" y2="262.00" stroke="#383838" stroke-width="0.8" />
<line x1="675.20" y1="255.60" x2="675.20" y2="265.40" stroke="#383838" stroke-width="0.8" />
<line x1="672.70" y1="255.60" x2="677.70" y2="255.60" stroke="#383838" stroke-width="0.8" />
<line x1="672.70" y1="265.40" x2="677.70" y2="265.40" stroke="#383838" stroke-width="0.8" />
<line x1="513.50" y1="297.90" x2="513.50" y2="308.90" stroke="#383838" stroke-width="0.8" />
<line x1="511.00" y1="297.90" x2="516.00" y2="297.90" stroke="#383838" stroke-width="0.8" />
<line x1="511.00" y1="308.90" x2="516.00" y2="308.90" stroke="#383838" stroke-width="0.8" />
<line x1="540.45" y1="298.00" x2="540.45" y2="306.00" stroke="#383838" stroke-width="0.8" />
<line x1="537.95" y1="298.00" x2="542.95" y2="298.00" stroke="#383838" stroke-width="0.8" />
<line x1="537.95" y1="306.00" x2="542.95" y2="306.00" stroke="#383838" stroke-width="0.8" />
<line x1="567.40" y1="277.70" x2="567.40" y2="287.70" stroke="#383838" stroke-width="0.8" />
<line x1="564.90" y1="277.70" x2="569.90" y2="277.70" stroke="#383838" stroke-width="0.8" />
<line x1="564.90" y1="287.70" x2="569.90" y2="287.70" stroke="#383838" stroke-width="0.8" />
<line x1="594.35" y1="254.00" x2="594.35" y2="264.00" stroke="#383838" stroke-width="0.8" />
<line x1="591.85" y1="254.00" x2="596.85" y2="254.00" stroke="#383838" stroke-width="0.8" />
<line x1="591.85" y1="264.00" x2="596.85" y2="264.00" stroke="#383838" stroke-width="0.8" />
<line x1="621.30" y1="254.40" x2="621.30" y2="264.40" stroke="#383838" stroke-width="0.8" />
<line x1="618.80" y1="254.40" x2="623.80" y2="254.40" stroke="#383838" stroke-width="0.8" />
<line x1="618.80" y1="264.40" x2="623.80" y2="264.40" stroke="#383838" stroke-width="0.8" />
<line x1="675.20" y1="265.00" x2="675.20" y2="275.00" stroke="#383838" stroke-width="0.8" />
<line x1="672.70" y1="265.00" x2="677.70" y2="265.00" stroke="#383838" stroke-width="0.8" />
<line x1="672.70" y1="275.00" x2="677.70" y2="275.00" stroke="#383838" stroke-width="0.8" />
<line x1="513.50" y1="287.30" x2="513.50" y2="297.30" stroke="#8c8cff" stroke-width="0.75" />
<line x1="511.00" y1="287.30" x2="516.00" y2="287.30" stroke="#8c8cff" stroke-width="0.75" />
<line x1="511.00" y1="297.30" x2="516.00" y2="297.30" stroke="#8c8cff" stroke-width="0.75" />
<line x1="540.45" y1="293.40" x2="540.45" y2="303.40" stroke="#8c8cff" stroke-width="0.75" />
<line x1="537.95" y1="293.40" x2="542.95" y2="293.40" stroke="#8c8cff" stroke-width="0.75" />
<line x1="537.95" y1="303.40" x2="542.95" y2="303.40" stroke="#8c8cff" stroke-width="0.75" />
<line x1="567.40" y1="284.90" x2="567.40" y2="294.90" stroke="#8c8cff" stroke-width="0.75" />
<line x1="564.90" y1="284.90" x2="569.90" y2="284.90" stroke="#8c8cff" stroke-width="0.75" />
<line x1="564.90" y1="294.90" x2="569.90" y2="294.90" stroke="#8c8cff" stroke-width="0.75" />
<line x1="594.35" y1="262.50" x2="594.35" y2="272.50" stroke="#8c8cff" stroke-width="0.75" />
<line x1="591.85" y1="262.50" x2="596.85" y2="262.50" stroke="#8c8cff" stroke-width="0.75" />
<line x1="591.85" y1="272.50" x2="596.85" y2="272.50" stroke="#8c8cff" stroke-width="0.75" />
<line x1="621.30" y1="257.80" x2="621.30" y2="267.80" stroke="#8c8cff" stroke-width="0.75" />
<line x1="618.80" y1="257.80" x2="623.80" y2="257.80" stroke="#8c8cff" stroke-width="0.75" />
<line x1="618.80" y1="267.80" x2="623.80" y2="267.80" stroke="#8c8cff" stroke-width="0.75" />
<line x1="675.20" y1="266.30" x2="675.20" y2="276.30" stroke="#8c8cff" stroke-width="0.75" />
<line x1="672.70" y1="266.30" x2="677.70" y2="266.30" stroke="#8c8cff" stroke-width="0.75" />
<line x1="672.70" y1="276.30" x2="677.70" y2="276.30" stroke="#8c8cff" stroke-width="0.75" />
<line x1="513.50" y1="294.40" x2="513.50" y2="302.40" stroke="#3c3c9c" stroke-width="0.75" />
<line x1="511.00" y1="294.40" x2="516.00" y2="294.40" stroke="#3c3c9c" stroke-width="0.75" />
<line x1="511.00" y1="302.40" x2="516.00" y2="302.40" stroke="#3c3c9c" stroke-width="0.75" />
<line x1="540.45" y1="310.80" x2="540.45" y2="320.20" stroke="#3c3c9c" stroke-width="0.75" />
<line x1="537.95" y1="310.80" x2="542.95" y2="310.80" stroke="#3c3c9c" stroke-width="0.75" />
<line x1="537.95" y1="320.20" x2="542.95" y2="320.20" stroke="#3c3c9c" stroke-width="0.75" />
<line x1="567.40" y1="288.60" x2="567.40" y2="299.00" stroke="#3c3c9c" stroke-width="0.75" />
<line x1="564.90" y1="288.60" x2="569.90" y2="288.60" stroke="#3c3c9c" stroke-width="0.75" />
<line x1="564.90" y1="299.00" x2="569.90" y2="299.00" stroke="#3c3c9c" stroke-width="0.75" />
<line x1="594.35" y1="267.00" x2="594.35" y2="279.40" stroke="#3c3c9c" stroke-width="0.75" />
<line x1="591.85" y1="267.00" x2="596.85" y2="267.00" stroke="#3c3c9c" stroke-width="0.75" />
<line x1="591.85" y1="279.40" x2="596.85" y2="279.40" stroke="#3c3c9c" stroke-width="0.75" />
<line x1="621.30" y1="261.70" x2="621.30" y2="274.50" stroke="#3c3c9c" stroke-width="0.75" />
<line x1="618.80" y1="261.70" x2="623.80" y2="261.70" stroke="#3c3c9c" stroke-width="0.75" />
<line x1="618.80" y1="274.50" x2="623.80" y2="274.50" stroke="#3c3c9c" stroke-width="0.75" />
<line x1="675.20" y1="270.30" x2="675.20" y2="281.70" stroke="#3c3c9c" stroke-width="0.75" />
<line x1="672.70" y1="270.30" x2="677.70" y2="270.30" stroke="#3c3c9c" stroke-width="0.75" />
<line x1="672.70" y1="281.70" x2="677.70" y2="281.70" stroke="#3c3c9c" stroke-width="0.75" />
<polygon points="513.50,290.56 510.95,294.98 516.05,294.98" fill="#e8e8e8" stroke="#333333" stroke-width="0.8" stroke-linejoin="miter"/>
<polygon points="540.45,297.26 537.90,301.68 543.00,301.68" fill="#e8e8e8" stroke="#333333" stroke-width="0.8" stroke-linejoin="miter"/>
<polygon points="567.40,275.46 564.85,279.88 569.95,279.88" fill="#e8e8e8" stroke="#333333" stroke-width="0.8" stroke-linejoin="miter"/>
<polygon points="594.35,252.16 591.80,256.58 596.90,256.58" fill="#e8e8e8" stroke="#333333" stroke-width="0.8" stroke-linejoin="miter"/>
<polygon points="621.30,252.86 618.75,257.28 623.85,257.28" fill="#e8e8e8" stroke="#333333" stroke-width="0.8" stroke-linejoin="miter"/>
<polygon points="675.20,257.76 672.65,262.18 677.75,262.18" fill="#e8e8e8" stroke="#333333" stroke-width="0.8" stroke-linejoin="miter"/>
<circle cx="513.50" cy="303.40" r="2.2" fill="#666666" stroke="#333333" stroke-width="0.8"/>
<circle cx="540.45" cy="302.00" r="2.2" fill="#666666" stroke="#333333" stroke-width="0.8"/>
<circle cx="567.40" cy="282.70" r="2.2" fill="#666666" stroke="#333333" stroke-width="0.8"/>
<circle cx="594.35" cy="259.00" r="2.2" fill="#666666" stroke="#333333" stroke-width="0.8"/>
<circle cx="621.30" cy="259.40" r="2.2" fill="#666666" stroke="#333333" stroke-width="0.8"/>
<circle cx="675.20" cy="270.00" r="2.2" fill="#666666" stroke="#333333" stroke-width="0.8"/>
<polygon points="513.50,289.40 510.80,294.08 516.20,294.08" fill="#7373ff" stroke="#7373ff" stroke-width="0.5" stroke-linejoin="miter"/>
<polygon points="540.45,295.50 537.75,300.18 543.15,300.18" fill="#7373ff" stroke="#7373ff" stroke-width="0.5" stroke-linejoin="miter"/>
<polygon points="567.40,287.00 564.70,291.68 570.10,291.68" fill="#7373ff" stroke="#7373ff" stroke-width="0.5" stroke-linejoin="miter"/>
<polygon points="594.35,264.60 591.65,269.28 597.05,269.28" fill="#7373ff" stroke="#7373ff" stroke-width="0.5" stroke-linejoin="miter"/>
<polygon points="621.30,259.90 618.60,264.58 624.00,264.58" fill="#7373ff" stroke="#7373ff" stroke-width="0.5" stroke-linejoin="miter"/>
<polygon points="675.20,268.40 672.50,273.08 677.90,273.08" fill="#7373ff" stroke="#7373ff" stroke-width="0.5" stroke-linejoin="miter"/>
<circle cx="513.50" cy="298.40" r="2.35" fill="#000080" stroke="#000080" stroke-width="0.5"/>
<circle cx="540.45" cy="315.50" r="2.35" fill="#000080" stroke="#000080" stroke-width="0.5"/>
<circle cx="567.40" cy="293.80" r="2.35" fill="#000080" stroke="#000080" stroke-width="0.5"/>
<circle cx="594.35" cy="273.20" r="2.35" fill="#000080" stroke="#000080" stroke-width="0.5"/>
<circle cx="621.30" cy="268.10" r="2.35" fill="#000080" stroke="#000080" stroke-width="0.5"/>
<circle cx="675.20" cy="276.00" r="2.35" fill="#000080" stroke="#000080" stroke-width="0.5"/>
<text x="594.80" y="242.42" font-size="9.6" text-anchor="middle" font-weight="normal" fill="#333" letter-spacing="-0.2">*</text>
<text x="494.60" y="207.00" font-size="13" text-anchor="start" font-weight="bold" fill="#111" >F</text>
<text x="502.90" y="207.00" font-size="13" text-anchor="start" font-weight="bold" fill="#111" >.</text>
<text x="569.30" y="204.40" font-size="9.95" text-anchor="start" font-weight="normal" fill="#262626" >Heart rate</text>
<text transform="translate(474.30,279.55) rotate(-90)" font-size="8.93" text-anchor="middle" fill="#262626">heart rate (beats per minute)</text>
<rect x="512.2" y="346.8" width="3.7" height="7.1" fill="#a8a8a8"/>
<line x1="162.40" y1="389.40" x2="176.90" y2="389.40" stroke="#34348c" stroke-width="0.95" />
<circle cx="169.60" cy="389.40" r="2.35" fill="#000080" stroke="#000080" stroke-width="0.5"/>
<text x="184.80" y="393.00" font-size="10.6" text-anchor="start" font-weight="normal" fill="#262626" >IBU positive</text>
<line x1="253.90" y1="389.40" x2="267.80" y2="389.40" stroke="#8080ff" stroke-width="0.95" />
<polygon points="260.70,386.50 258.00,391.18 263.40,391.18" fill="#7373ff" stroke="#7373ff" stroke-width="0.5" stroke-linejoin="miter"/>
<text x="276.50" y="393.00" font-size="10.6" text-anchor="start" font-weight="normal" fill="#262626" >IBU neutral</text>
<line x1="343.10" y1="389.40" x2="357.50" y2="389.40" stroke="#404040" stroke-width="0.95" />
<circle cx="350.30" cy="389.40" r="2.2" fill="#666666" stroke="#333333" stroke-width="0.8"/>
<text x="366.00" y="393.00" font-size="10.6" text-anchor="start" font-weight="normal" fill="#262626" >PLA positive</text>
<line x1="436.20" y1="389.40" x2="450.90" y2="389.40" stroke="#404040" stroke-width="0.95" />
<polygon points="443.60,386.66 441.05,391.08 446.15,391.08" fill="#e8e8e8" stroke="#333333" stroke-width="0.8" stroke-linejoin="miter"/>
<text x="459.00" y="393.00" font-size="10.6" text-anchor="start" font-weight="normal" fill="#262626" >PLA neutral</text>
</g>
</svg>
</body></html>
